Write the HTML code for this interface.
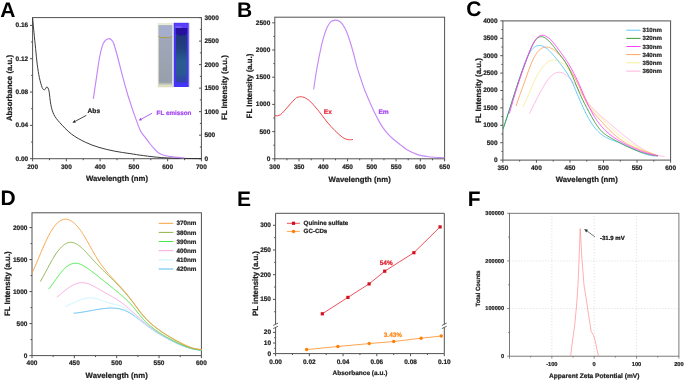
<!DOCTYPE html>
<html><head><meta charset="utf-8"><title>Figure</title>
<style>
html,body{margin:0;padding:0;background:#fff;}
body{width:685px;height:381px;overflow:hidden;}
svg{display:block;font-family:"Liberation Sans", sans-serif;filter:blur(0.45px);text-rendering:geometricPrecision;}
text{stroke-linejoin:round;}
</style></head>
<body>
<svg width="685" height="381" viewBox="0 0 685 381">
<rect width="685" height="381" fill="#fff"/>
<line x1="32.6" y1="158.7" x2="32.6" y2="161.3" stroke="#525252" stroke-width="1.0" />
<line x1="66.36" y1="158.7" x2="66.36" y2="161.3" stroke="#525252" stroke-width="1.0" />
<line x1="100.12" y1="158.7" x2="100.12" y2="161.3" stroke="#525252" stroke-width="1.0" />
<line x1="133.88" y1="158.7" x2="133.88" y2="161.3" stroke="#525252" stroke-width="1.0" />
<line x1="167.64" y1="158.7" x2="167.64" y2="161.3" stroke="#525252" stroke-width="1.0" />
<line x1="201.4" y1="158.7" x2="201.4" y2="161.3" stroke="#525252" stroke-width="1.0" />
<line x1="49.48" y1="158.7" x2="49.48" y2="160.2" stroke="#525252" stroke-width="1.0" />
<line x1="83.24" y1="158.7" x2="83.24" y2="160.2" stroke="#525252" stroke-width="1.0" />
<line x1="117" y1="158.7" x2="117" y2="160.2" stroke="#525252" stroke-width="1.0" />
<line x1="150.76" y1="158.7" x2="150.76" y2="160.2" stroke="#525252" stroke-width="1.0" />
<line x1="184.52" y1="158.7" x2="184.52" y2="160.2" stroke="#525252" stroke-width="1.0" />
<line x1="32.6" y1="158.7" x2="30" y2="158.7" stroke="#525252" stroke-width="1.0" />
<line x1="32.6" y1="142.04" x2="31.1" y2="142.04" stroke="#525252" stroke-width="1.0" />
<line x1="32.6" y1="125.38" x2="30" y2="125.38" stroke="#525252" stroke-width="1.0" />
<line x1="32.6" y1="108.71" x2="31.1" y2="108.71" stroke="#525252" stroke-width="1.0" />
<line x1="32.6" y1="92.05" x2="30" y2="92.05" stroke="#525252" stroke-width="1.0" />
<line x1="32.6" y1="75.39" x2="31.1" y2="75.39" stroke="#525252" stroke-width="1.0" />
<line x1="32.6" y1="58.72" x2="30" y2="58.72" stroke="#525252" stroke-width="1.0" />
<line x1="32.6" y1="42.06" x2="31.1" y2="42.06" stroke="#525252" stroke-width="1.0" />
<line x1="32.6" y1="25.4" x2="30" y2="25.4" stroke="#525252" stroke-width="1.0" />
<line x1="201.4" y1="158.7" x2="199" y2="158.7" stroke="#525252" stroke-width="1.0" />
<line x1="201.4" y1="146.94" x2="199.9" y2="146.94" stroke="#525252" stroke-width="1.0" />
<line x1="201.4" y1="135.18" x2="199" y2="135.18" stroke="#525252" stroke-width="1.0" />
<line x1="201.4" y1="123.42" x2="199.9" y2="123.42" stroke="#525252" stroke-width="1.0" />
<line x1="201.4" y1="111.67" x2="199" y2="111.67" stroke="#525252" stroke-width="1.0" />
<line x1="201.4" y1="99.91" x2="199.9" y2="99.91" stroke="#525252" stroke-width="1.0" />
<line x1="201.4" y1="88.15" x2="199" y2="88.15" stroke="#525252" stroke-width="1.0" />
<line x1="201.4" y1="76.39" x2="199.9" y2="76.39" stroke="#525252" stroke-width="1.0" />
<line x1="201.4" y1="64.63" x2="199" y2="64.63" stroke="#525252" stroke-width="1.0" />
<line x1="201.4" y1="52.88" x2="199.9" y2="52.88" stroke="#525252" stroke-width="1.0" />
<line x1="201.4" y1="41.12" x2="199" y2="41.12" stroke="#525252" stroke-width="1.0" />
<line x1="201.4" y1="29.36" x2="199.9" y2="29.36" stroke="#525252" stroke-width="1.0" />
<line x1="201.4" y1="17.6" x2="199" y2="17.6" stroke="#525252" stroke-width="1.0" />
<rect x="32.6" y="17.6" width="168.8" height="141.1" fill="none" stroke="#525252" stroke-width="1.0"/>
<text x="32.6" y="168.95" font-size="6.5" font-weight="bold" text-anchor="middle" fill="#1e1e1e" stroke="#1e1e1e" stroke-width="0.22" >200</text>
<text x="66.36" y="168.95" font-size="6.5" font-weight="bold" text-anchor="middle" fill="#1e1e1e" stroke="#1e1e1e" stroke-width="0.22" >300</text>
<text x="100.12" y="168.95" font-size="6.5" font-weight="bold" text-anchor="middle" fill="#1e1e1e" stroke="#1e1e1e" stroke-width="0.22" >400</text>
<text x="133.88" y="168.95" font-size="6.5" font-weight="bold" text-anchor="middle" fill="#1e1e1e" stroke="#1e1e1e" stroke-width="0.22" >500</text>
<text x="167.64" y="168.95" font-size="6.5" font-weight="bold" text-anchor="middle" fill="#1e1e1e" stroke="#1e1e1e" stroke-width="0.22" >600</text>
<text x="201.4" y="168.95" font-size="6.5" font-weight="bold" text-anchor="middle" fill="#1e1e1e" stroke="#1e1e1e" stroke-width="0.22" >700</text>
<text x="28.2" y="160.65" font-size="6.5" font-weight="bold" text-anchor="end" fill="#1e1e1e" stroke="#1e1e1e" stroke-width="0.22" >0.00</text>
<text x="28.2" y="127.33" font-size="6.5" font-weight="bold" text-anchor="end" fill="#1e1e1e" stroke="#1e1e1e" stroke-width="0.22" >0.04</text>
<text x="28.2" y="94" font-size="6.5" font-weight="bold" text-anchor="end" fill="#1e1e1e" stroke="#1e1e1e" stroke-width="0.22" >0.08</text>
<text x="28.2" y="60.67" font-size="6.5" font-weight="bold" text-anchor="end" fill="#1e1e1e" stroke="#1e1e1e" stroke-width="0.22" >0.12</text>
<text x="28.2" y="27.35" font-size="6.5" font-weight="bold" text-anchor="end" fill="#1e1e1e" stroke="#1e1e1e" stroke-width="0.22" >0.16</text>
<text x="204.4" y="160.65" font-size="6.5" font-weight="bold" text-anchor="start" fill="#1e1e1e" stroke="#1e1e1e" stroke-width="0.22" >0</text>
<text x="204.4" y="137.13" font-size="6.5" font-weight="bold" text-anchor="start" fill="#1e1e1e" stroke="#1e1e1e" stroke-width="0.22" >500</text>
<text x="204.4" y="113.62" font-size="6.5" font-weight="bold" text-anchor="start" fill="#1e1e1e" stroke="#1e1e1e" stroke-width="0.22" >1000</text>
<text x="204.4" y="90.1" font-size="6.5" font-weight="bold" text-anchor="start" fill="#1e1e1e" stroke="#1e1e1e" stroke-width="0.22" >1500</text>
<text x="204.4" y="66.58" font-size="6.5" font-weight="bold" text-anchor="start" fill="#1e1e1e" stroke="#1e1e1e" stroke-width="0.22" >2000</text>
<text x="204.4" y="43.07" font-size="6.5" font-weight="bold" text-anchor="start" fill="#1e1e1e" stroke="#1e1e1e" stroke-width="0.22" >2500</text>
<text x="204.4" y="19.55" font-size="6.5" font-weight="bold" text-anchor="start" fill="#1e1e1e" stroke="#1e1e1e" stroke-width="0.22" >3000</text>
<text x="117" y="180.7" font-size="7.75" font-weight="bold" text-anchor="middle" fill="#1e1e1e" stroke="#1e1e1e" stroke-width="0.22" >Wavelength (nm)</text>
<text x="11.9" y="88" font-size="7.85" font-weight="bold" text-anchor="middle" fill="#1e1e1e" stroke="#1e1e1e" stroke-width="0.22" transform="rotate(-90 11.9 88)" >Absorbance (a.u.)</text>
<text x="226.6" y="87.6" font-size="7.85" font-weight="bold" text-anchor="middle" fill="#1e1e1e" stroke="#1e1e1e" stroke-width="0.22" transform="rotate(-90 226.6 87.6)" >FL Intensity (a.u.)</text>
<text x="0.13" y="17.05" font-size="21" font-weight="bold" text-anchor="start" fill="#000" >A</text>
<defs>
<linearGradient id="cv2" x1="0" y1="0" x2="0" y2="1">
<stop offset="0" stop-color="#20347a"/><stop offset="0.3" stop-color="#22407e"/>
<stop offset="0.58" stop-color="#295c92"/><stop offset="0.82" stop-color="#2a5892"/><stop offset="1" stop-color="#3240aa"/>
</linearGradient>
<linearGradient id="cv1" x1="0" y1="0" x2="0" y2="1">
<stop offset="0" stop-color="#a0a9c0"/><stop offset="0.3" stop-color="#9ea7b8"/><stop offset="0.95" stop-color="#98a0ac"/><stop offset="1" stop-color="#dcdcbc"/>
</linearGradient>
</defs>
<rect x="157.8" y="23.2" width="15.2" height="64.1" fill="#dcdfc4"/>
<rect x="158.8" y="25.4" width="13.2" height="59.8" fill="url(#cv1)"/>
<rect x="158.8" y="25.4" width="13.2" height="11.8" fill="#a5aecc"/>
<path d="M158.8,36.2 Q159.6,37.5 161.5,37.5 H169.3 Q171.2,37.5 172,36.2" fill="none" stroke="#ad9c50" stroke-width="1.1"/>
<rect x="157.8" y="23.2" width="15.2" height="1.8" fill="#ebebda"/>
<rect x="173.7" y="22.8" width="15.1" height="64.2" fill="#4434f6"/>
<rect x="176" y="33" width="11" height="49.4" fill="url(#cv2)"/>
<rect x="175" y="23.5" width="13" height="4.6" fill="#5a40f8"/>
<rect x="175.4" y="26.5" width="6" height="1.1" fill="#a898ff" opacity="0.6"/>
<path d="M175.8,28.1 H187.2 V33.4 Q181.5,37.8 175.8,33.4 Z" fill="#28109e"/>
<rect x="188.7" y="23" width="1" height="64" fill="#c0a0ff" opacity="0.55"/>
<path d="M32.6,18.2 C32.63,18.6 32.57,18.15 32.8,20.6 C33.03,23.05 33.53,28.23 34,32.9 C34.47,37.57 35.07,43.38 35.6,48.6 C36.13,53.82 36.57,59.35 37.2,64.2 C37.83,69.05 38.57,73.8 39.4,77.7 C40.23,81.6 41.33,85.58 42.2,87.6 C43.07,89.62 43.82,89.92 44.6,89.8 C45.38,89.68 46.17,86.68 46.9,86.9 C47.63,87.12 48.35,88.17 49,91.1 C49.65,94.03 50,100.62 50.8,104.5 C51.6,108.38 52.32,111.4 53.8,114.4 C55.28,117.4 56.75,119.22 59.7,122.5 C62.65,125.78 67.23,130.82 71.5,134.1 C75.77,137.38 80.72,139.98 85.3,142.2 C89.88,144.42 94.08,145.9 99,147.4 C103.92,148.9 109.63,150.17 114.8,151.2 C119.97,152.23 125.23,152.87 130,153.6 C134.77,154.33 138.1,154.93 143.4,155.6 C148.7,156.27 155.07,157.13 161.8,157.6 C168.53,158.07 177.27,158.23 183.8,158.4 C190.33,158.57 198.13,158.57 201,158.6" fill="none" stroke="#262626" stroke-width="0.9" stroke-linejoin="round" stroke-linecap="round" opacity="1.0"/>
<path d="M93.4,98.4 C93.92,94.9 95.45,84.38 96.5,77.4 C97.55,70.42 98.65,61.97 99.7,56.5 C100.75,51.03 101.82,47.32 102.8,44.6 C103.78,41.88 104.65,41.18 105.6,40.2 C106.55,39.22 107.57,38.77 108.5,38.7 C109.43,38.63 110.35,39.03 111.2,39.8 C112.05,40.57 112.55,40.52 113.6,43.3 C114.65,46.08 115.97,50.85 117.5,56.5 C119.03,62.15 121.08,70.78 122.8,77.2 C124.52,83.62 126.5,90.6 127.8,95 C129.1,99.4 129.63,100.67 130.6,103.6 C131.57,106.53 132.43,109.27 133.6,112.6 C134.77,115.93 136.42,120.5 137.6,123.6 C138.78,126.7 139.4,128.85 140.7,131.2 C142,133.55 143.82,135.57 145.4,137.7 C146.98,139.83 148.62,142.03 150.2,144 C151.78,145.97 153.33,147.92 154.9,149.5 C156.47,151.08 157.77,152.45 159.6,153.5 C161.43,154.55 163.33,155.2 165.9,155.8 C168.47,156.4 172.02,156.73 175,157.1 C177.98,157.47 182.33,157.85 183.8,158" fill="none" stroke="#c486f7" stroke-width="1.15" stroke-linejoin="round" stroke-linecap="round" opacity="1.0"/>
<line x1="86.3" y1="115.4" x2="75.22" y2="121.3" stroke="#1a1a1a" stroke-width="0.8" />
<path d="M72.4,122.8 L74.57,120.06 L75.88,122.53 Z" fill="#1a1a1a"/>
<text x="87.6" y="113.2" font-size="6.6" font-weight="bold" text-anchor="start" fill="#1a1a1a" stroke="#1a1a1a" stroke-width="0.22" >Abs</text>
<line x1="152.2" y1="113.2" x2="141.41" y2="119.07" stroke="#a040f0" stroke-width="0.8" />
<path d="M138.6,120.6 L140.74,117.84 L142.08,120.3 Z" fill="#a040f0"/>
<text x="156.6" y="114.8" font-size="6.3" font-weight="bold" text-anchor="start" fill="#a448f0" stroke="#a448f0" stroke-width="0.22" >FL emisson</text>
<line x1="274.8" y1="158.8" x2="274.8" y2="161.4" stroke="#525252" stroke-width="1.0" />
<line x1="299.06" y1="158.8" x2="299.06" y2="161.4" stroke="#525252" stroke-width="1.0" />
<line x1="323.31" y1="158.8" x2="323.31" y2="161.4" stroke="#525252" stroke-width="1.0" />
<line x1="347.57" y1="158.8" x2="347.57" y2="161.4" stroke="#525252" stroke-width="1.0" />
<line x1="371.83" y1="158.8" x2="371.83" y2="161.4" stroke="#525252" stroke-width="1.0" />
<line x1="396.09" y1="158.8" x2="396.09" y2="161.4" stroke="#525252" stroke-width="1.0" />
<line x1="420.34" y1="158.8" x2="420.34" y2="161.4" stroke="#525252" stroke-width="1.0" />
<line x1="444.6" y1="158.8" x2="444.6" y2="161.4" stroke="#525252" stroke-width="1.0" />
<line x1="286.93" y1="158.8" x2="286.93" y2="160.3" stroke="#525252" stroke-width="1.0" />
<line x1="311.19" y1="158.8" x2="311.19" y2="160.3" stroke="#525252" stroke-width="1.0" />
<line x1="335.44" y1="158.8" x2="335.44" y2="160.3" stroke="#525252" stroke-width="1.0" />
<line x1="359.7" y1="158.8" x2="359.7" y2="160.3" stroke="#525252" stroke-width="1.0" />
<line x1="383.96" y1="158.8" x2="383.96" y2="160.3" stroke="#525252" stroke-width="1.0" />
<line x1="408.21" y1="158.8" x2="408.21" y2="160.3" stroke="#525252" stroke-width="1.0" />
<line x1="432.47" y1="158.8" x2="432.47" y2="160.3" stroke="#525252" stroke-width="1.0" />
<line x1="274.8" y1="158.8" x2="272.2" y2="158.8" stroke="#525252" stroke-width="1.0" />
<line x1="274.8" y1="145.2" x2="273.3" y2="145.2" stroke="#525252" stroke-width="1.0" />
<line x1="274.8" y1="131.6" x2="272.2" y2="131.6" stroke="#525252" stroke-width="1.0" />
<line x1="274.8" y1="118" x2="273.3" y2="118" stroke="#525252" stroke-width="1.0" />
<line x1="274.8" y1="104.4" x2="272.2" y2="104.4" stroke="#525252" stroke-width="1.0" />
<line x1="274.8" y1="90.8" x2="273.3" y2="90.8" stroke="#525252" stroke-width="1.0" />
<line x1="274.8" y1="77.2" x2="272.2" y2="77.2" stroke="#525252" stroke-width="1.0" />
<line x1="274.8" y1="63.6" x2="273.3" y2="63.6" stroke="#525252" stroke-width="1.0" />
<line x1="274.8" y1="50" x2="272.2" y2="50" stroke="#525252" stroke-width="1.0" />
<line x1="274.8" y1="36.4" x2="273.3" y2="36.4" stroke="#525252" stroke-width="1.0" />
<line x1="274.8" y1="22.8" x2="272.2" y2="22.8" stroke="#525252" stroke-width="1.0" />
<rect x="274.8" y="17.2" width="169.8" height="141.6" fill="none" stroke="#525252" stroke-width="1.0"/>
<text x="274.8" y="168.75" font-size="6.5" font-weight="bold" text-anchor="middle" fill="#1e1e1e" stroke="#1e1e1e" stroke-width="0.22" >300</text>
<text x="299.06" y="168.75" font-size="6.5" font-weight="bold" text-anchor="middle" fill="#1e1e1e" stroke="#1e1e1e" stroke-width="0.22" >350</text>
<text x="323.31" y="168.75" font-size="6.5" font-weight="bold" text-anchor="middle" fill="#1e1e1e" stroke="#1e1e1e" stroke-width="0.22" >400</text>
<text x="347.57" y="168.75" font-size="6.5" font-weight="bold" text-anchor="middle" fill="#1e1e1e" stroke="#1e1e1e" stroke-width="0.22" >450</text>
<text x="371.83" y="168.75" font-size="6.5" font-weight="bold" text-anchor="middle" fill="#1e1e1e" stroke="#1e1e1e" stroke-width="0.22" >500</text>
<text x="396.09" y="168.75" font-size="6.5" font-weight="bold" text-anchor="middle" fill="#1e1e1e" stroke="#1e1e1e" stroke-width="0.22" >550</text>
<text x="420.34" y="168.75" font-size="6.5" font-weight="bold" text-anchor="middle" fill="#1e1e1e" stroke="#1e1e1e" stroke-width="0.22" >600</text>
<text x="444.6" y="168.75" font-size="6.5" font-weight="bold" text-anchor="middle" fill="#1e1e1e" stroke="#1e1e1e" stroke-width="0.22" >650</text>
<text x="270.3" y="160.75" font-size="6.5" font-weight="bold" text-anchor="end" fill="#1e1e1e" stroke="#1e1e1e" stroke-width="0.22" >0</text>
<text x="270.3" y="133.55" font-size="6.5" font-weight="bold" text-anchor="end" fill="#1e1e1e" stroke="#1e1e1e" stroke-width="0.22" >500</text>
<text x="270.3" y="106.35" font-size="6.5" font-weight="bold" text-anchor="end" fill="#1e1e1e" stroke="#1e1e1e" stroke-width="0.22" >1000</text>
<text x="270.3" y="79.15" font-size="6.5" font-weight="bold" text-anchor="end" fill="#1e1e1e" stroke="#1e1e1e" stroke-width="0.22" >1500</text>
<text x="270.3" y="51.95" font-size="6.5" font-weight="bold" text-anchor="end" fill="#1e1e1e" stroke="#1e1e1e" stroke-width="0.22" >2000</text>
<text x="270.3" y="24.75" font-size="6.5" font-weight="bold" text-anchor="end" fill="#1e1e1e" stroke="#1e1e1e" stroke-width="0.22" >2500</text>
<text x="359.7" y="182.2" font-size="7.75" font-weight="bold" text-anchor="middle" fill="#1e1e1e" stroke="#1e1e1e" stroke-width="0.22" >Wavelength (nm)</text>
<text x="251.6" y="86" font-size="7.85" font-weight="bold" text-anchor="middle" fill="#1e1e1e" stroke="#1e1e1e" stroke-width="0.22" transform="rotate(-90 251.6 86)" >FL Intensity (a.u.)</text>
<text x="236.93" y="17.45" font-size="21" font-weight="bold" text-anchor="start" fill="#000" >B</text>
<path d="M274.8,115.8 C275.25,115.78 276.53,115.9 277.5,115.7 C278.47,115.5 279.52,115.35 280.6,114.6 C281.68,113.85 282.82,112.47 284,111.2 C285.18,109.93 286.53,108.33 287.7,107 C288.87,105.67 289.95,104.37 291,103.2 C292.05,102.03 293.07,100.92 294,100 C294.93,99.08 295.67,98.23 296.6,97.7 C297.53,97.17 298.58,96.92 299.6,96.8 C300.62,96.68 301.67,96.77 302.7,97 C303.73,97.23 304.42,97.33 305.8,98.2 C307.18,99.07 308.77,99.95 311,102.2 C313.23,104.45 316.52,108.4 319.2,111.7 C321.88,115 324.48,118.85 327.1,122 C329.72,125.15 332.28,128.02 334.9,130.6 C337.52,133.18 340.78,136.03 342.8,137.5 C344.82,138.97 345.83,139.02 347,139.4 C348.17,139.78 348.87,139.78 349.8,139.8 C350.73,139.82 352.13,139.55 352.6,139.5" fill="none" stroke="#f04848" stroke-width="1.0" stroke-linejoin="round" stroke-linecap="round" opacity="1.0"/>
<path d="M313.7,89 C314.22,85.67 315.5,76.27 316.8,69 C318.1,61.73 320.22,51.15 321.5,45.4 C322.78,39.65 323.52,37.6 324.5,34.5 C325.48,31.4 326.32,28.95 327.4,26.8 C328.48,24.65 329.7,22.72 331,21.6 C332.3,20.48 333.87,20.18 335.2,20.1 C336.53,20.02 337.75,20.35 339,21.1 C340.25,21.85 341.47,22.92 342.7,24.6 C343.93,26.28 345.22,28.52 346.4,31.2 C347.58,33.88 348.63,37.07 349.8,40.7 C350.97,44.33 352.22,48.68 353.4,53 C354.58,57.32 355.67,62.3 356.9,66.6 C358.13,70.9 359.5,74.9 360.8,78.8 C362.1,82.7 363.27,86.27 364.7,90 C366.13,93.73 367.68,97.27 369.4,101.2 C371.12,105.13 373.37,110.2 375,113.6 C376.63,117 377.88,119.27 379.2,121.6 C380.52,123.93 381.6,125.73 382.9,127.6 C384.2,129.47 385.33,130.93 387,132.8 C388.67,134.67 390.58,136.75 392.9,138.8 C395.22,140.85 398.32,143.13 400.9,145.1 C403.48,147.07 405.62,149.02 408.4,150.6 C411.18,152.18 414.53,153.62 417.6,154.6 C420.67,155.58 423.9,156.05 426.8,156.5 C429.7,156.95 432.1,157.1 435,157.3 C437.9,157.5 442.67,157.63 444.2,157.7" fill="none" stroke="#c68af7" stroke-width="1.15" stroke-linejoin="round" stroke-linecap="round" opacity="1.0"/>
<text x="323.8" y="114.4" font-size="6.6" font-weight="bold" text-anchor="start" fill="#e8283c" stroke="#e8283c" stroke-width="0.22" >Ex</text>
<text x="378.4" y="114" font-size="6.6" font-weight="bold" text-anchor="start" fill="#a848f0" stroke="#a848f0" stroke-width="0.22" >Em</text>
<line x1="502.9" y1="160.1" x2="502.9" y2="162.7" stroke="#525252" stroke-width="1.0" />
<line x1="536.44" y1="160.1" x2="536.44" y2="162.7" stroke="#525252" stroke-width="1.0" />
<line x1="569.98" y1="160.1" x2="569.98" y2="162.7" stroke="#525252" stroke-width="1.0" />
<line x1="603.52" y1="160.1" x2="603.52" y2="162.7" stroke="#525252" stroke-width="1.0" />
<line x1="637.06" y1="160.1" x2="637.06" y2="162.7" stroke="#525252" stroke-width="1.0" />
<line x1="670.6" y1="160.1" x2="670.6" y2="162.7" stroke="#525252" stroke-width="1.0" />
<line x1="519.67" y1="160.1" x2="519.67" y2="161.6" stroke="#525252" stroke-width="1.0" />
<line x1="553.21" y1="160.1" x2="553.21" y2="161.6" stroke="#525252" stroke-width="1.0" />
<line x1="586.75" y1="160.1" x2="586.75" y2="161.6" stroke="#525252" stroke-width="1.0" />
<line x1="620.29" y1="160.1" x2="620.29" y2="161.6" stroke="#525252" stroke-width="1.0" />
<line x1="653.83" y1="160.1" x2="653.83" y2="161.6" stroke="#525252" stroke-width="1.0" />
<line x1="502.9" y1="160.1" x2="500.3" y2="160.1" stroke="#525252" stroke-width="1.0" />
<line x1="502.9" y1="151.4" x2="501.4" y2="151.4" stroke="#525252" stroke-width="1.0" />
<line x1="502.9" y1="142.7" x2="500.3" y2="142.7" stroke="#525252" stroke-width="1.0" />
<line x1="502.9" y1="134" x2="501.4" y2="134" stroke="#525252" stroke-width="1.0" />
<line x1="502.9" y1="125.3" x2="500.3" y2="125.3" stroke="#525252" stroke-width="1.0" />
<line x1="502.9" y1="116.6" x2="501.4" y2="116.6" stroke="#525252" stroke-width="1.0" />
<line x1="502.9" y1="107.9" x2="500.3" y2="107.9" stroke="#525252" stroke-width="1.0" />
<line x1="502.9" y1="99.2" x2="501.4" y2="99.2" stroke="#525252" stroke-width="1.0" />
<line x1="502.9" y1="90.5" x2="500.3" y2="90.5" stroke="#525252" stroke-width="1.0" />
<line x1="502.9" y1="81.8" x2="501.4" y2="81.8" stroke="#525252" stroke-width="1.0" />
<line x1="502.9" y1="73.1" x2="500.3" y2="73.1" stroke="#525252" stroke-width="1.0" />
<line x1="502.9" y1="64.4" x2="501.4" y2="64.4" stroke="#525252" stroke-width="1.0" />
<line x1="502.9" y1="55.7" x2="500.3" y2="55.7" stroke="#525252" stroke-width="1.0" />
<line x1="502.9" y1="47" x2="501.4" y2="47" stroke="#525252" stroke-width="1.0" />
<line x1="502.9" y1="38.3" x2="500.3" y2="38.3" stroke="#525252" stroke-width="1.0" />
<line x1="502.9" y1="29.6" x2="501.4" y2="29.6" stroke="#525252" stroke-width="1.0" />
<line x1="502.9" y1="20.9" x2="500.3" y2="20.9" stroke="#525252" stroke-width="1.0" />
<rect x="502.9" y="20.9" width="167.7" height="139.2" fill="none" stroke="#525252" stroke-width="1.0"/>
<text x="502.9" y="169.85" font-size="6.5" font-weight="bold" text-anchor="middle" fill="#1e1e1e" stroke="#1e1e1e" stroke-width="0.22" >350</text>
<text x="536.44" y="169.85" font-size="6.5" font-weight="bold" text-anchor="middle" fill="#1e1e1e" stroke="#1e1e1e" stroke-width="0.22" >400</text>
<text x="569.98" y="169.85" font-size="6.5" font-weight="bold" text-anchor="middle" fill="#1e1e1e" stroke="#1e1e1e" stroke-width="0.22" >450</text>
<text x="603.52" y="169.85" font-size="6.5" font-weight="bold" text-anchor="middle" fill="#1e1e1e" stroke="#1e1e1e" stroke-width="0.22" >500</text>
<text x="637.06" y="169.85" font-size="6.5" font-weight="bold" text-anchor="middle" fill="#1e1e1e" stroke="#1e1e1e" stroke-width="0.22" >550</text>
<text x="670.6" y="169.85" font-size="6.5" font-weight="bold" text-anchor="middle" fill="#1e1e1e" stroke="#1e1e1e" stroke-width="0.22" >600</text>
<text x="497.6" y="162.05" font-size="6.5" font-weight="bold" text-anchor="end" fill="#1e1e1e" stroke="#1e1e1e" stroke-width="0.22" >0</text>
<text x="497.6" y="144.65" font-size="6.5" font-weight="bold" text-anchor="end" fill="#1e1e1e" stroke="#1e1e1e" stroke-width="0.22" >500</text>
<text x="497.6" y="127.25" font-size="6.5" font-weight="bold" text-anchor="end" fill="#1e1e1e" stroke="#1e1e1e" stroke-width="0.22" >1000</text>
<text x="497.6" y="109.85" font-size="6.5" font-weight="bold" text-anchor="end" fill="#1e1e1e" stroke="#1e1e1e" stroke-width="0.22" >1500</text>
<text x="497.6" y="92.45" font-size="6.5" font-weight="bold" text-anchor="end" fill="#1e1e1e" stroke="#1e1e1e" stroke-width="0.22" >2000</text>
<text x="497.6" y="75.05" font-size="6.5" font-weight="bold" text-anchor="end" fill="#1e1e1e" stroke="#1e1e1e" stroke-width="0.22" >2500</text>
<text x="497.6" y="57.65" font-size="6.5" font-weight="bold" text-anchor="end" fill="#1e1e1e" stroke="#1e1e1e" stroke-width="0.22" >3000</text>
<text x="497.6" y="40.25" font-size="6.5" font-weight="bold" text-anchor="end" fill="#1e1e1e" stroke="#1e1e1e" stroke-width="0.22" >3500</text>
<text x="497.6" y="22.85" font-size="6.5" font-weight="bold" text-anchor="end" fill="#1e1e1e" stroke="#1e1e1e" stroke-width="0.22" >4000</text>
<text x="586.75" y="181.9" font-size="7.75" font-weight="bold" text-anchor="middle" fill="#1e1e1e" stroke="#1e1e1e" stroke-width="0.22" >Wavelength (nm)</text>
<text x="481.3" y="90.6" font-size="7.85" font-weight="bold" text-anchor="middle" fill="#1e1e1e" stroke="#1e1e1e" stroke-width="0.22" transform="rotate(-90 481.3 90.6)" >FL Intensity (a.u.)</text>
<text x="466.13" y="16.35" font-size="21" font-weight="bold" text-anchor="start" fill="#000" >C</text>
<path d="M529.6,113.13 L530.3,111.77 L531,110.4 L531.7,109.02 L532.4,107.63 L533.11,106.23 L533.81,104.84 L534.51,103.44 L535.21,102.04 L535.91,100.65 L536.61,99.26 L537.31,97.89 L538.01,96.52 L538.71,95.17 L539.41,93.83 L540.12,92.52 L540.82,91.22 L541.52,89.95 L542.22,88.7 L542.92,87.48 L543.62,86.29 L544.32,85.14 L545.02,84.02 L545.72,82.93 L546.43,81.89 L547.13,80.89 L547.83,79.93 L548.53,79.02 L549.23,78.16 L549.93,77.35 L550.63,76.6 L551.33,75.9 L552.03,75.26 L552.73,74.68 L553.44,74.17 L554.14,73.72 L554.84,73.33 L555.54,73 L556.24,72.74 L556.94,72.54 L557.64,72.4 L558.34,72.31 L559.04,72.29 L559.74,72.32 L560.45,72.4 L561.15,72.54 L561.85,72.74 L562.55,72.98 L563.25,73.28 L563.95,73.64 L564.65,74.04 L565.35,74.49 L566.05,74.98 L566.76,75.53 L567.46,76.12 L568.16,76.76 L568.86,77.43 L569.56,78.14 L570.26,78.89 L570.96,79.66 L571.66,80.47 L572.36,81.3 L573.06,82.15 L573.77,83.03 L574.47,83.92 L575.17,84.83 L575.87,85.75 L576.57,86.69 L577.27,87.63 L577.97,88.59 L578.67,89.56 L579.37,90.53 L580.08,91.51 L580.78,92.49 L581.48,93.47 L582.18,94.46 L582.88,95.44 L583.58,96.42 L584.28,97.39 L584.98,98.36 L585.68,99.32 L586.38,100.27 L587.09,101.21 L587.79,102.14 L588.49,103.05 L589.19,103.94 L589.89,104.82 L590.59,105.68 L591.29,106.52 L591.99,107.34 L592.69,108.13 L593.39,108.9 L594.1,109.65 L594.8,110.38 L595.5,111.1 L596.2,111.79 L596.9,112.47 L597.6,113.14 L598.3,113.79 L599,114.43 L599.7,115.05 L600.41,115.67 L601.11,116.28 L601.81,116.89 L602.51,117.48 L603.21,118.08 L603.91,118.67 L604.61,119.25 L605.31,119.84 L606.01,120.43 L606.71,121.02 L607.42,121.61 L608.12,122.2 L608.82,122.79 L609.52,123.39 L610.22,123.98 L610.92,124.58 L611.62,125.17 L612.32,125.77 L613.02,126.37 L613.73,126.97 L614.43,127.56 L615.13,128.16 L615.83,128.75 L616.53,129.35 L617.23,129.94 L617.93,130.53 L618.63,131.13 L619.33,131.71 L620.03,132.3 L620.74,132.89 L621.44,133.47 L622.14,134.05 L622.84,134.63 L623.54,135.2 L624.24,135.77 L624.94,136.34 L625.64,136.9 L626.34,137.47 L627.04,138.02 L627.75,138.57 L628.45,139.12 L629.15,139.67 L629.85,140.2 L630.55,140.74 L631.25,141.27 L631.95,141.79 L632.65,142.31 L633.35,142.82 L634.06,143.32 L634.76,143.82 L635.46,144.31 L636.16,144.8 L636.86,145.28 L637.56,145.75 L638.26,146.22 L638.96,146.67 L639.66,147.12 L640.36,147.56 L641.07,148 L641.77,148.42 L642.47,148.84 L643.17,149.25 L643.87,149.65 L644.57,150.04 L645.27,150.42 L645.97,150.79 L646.67,151.15 L647.38,151.5 L648.08,151.84 L648.78,152.17 L649.48,152.49 L650.18,152.8 L650.88,153.1 L651.58,153.38 L652.28,153.66 L652.98,153.92 L653.68,154.18 L654.39,154.42 L655.09,154.64 L655.79,154.86 L656.49,155.06 L657.19,155.25 L657.89,155.43 L658.59,155.59 L659.29,155.74 L659.99,155.88 L660.69,156 L661.4,156.11 L662.1,156.2 L662.8,156.28 L663.5,156.35 L664.2,156.4" fill="none" stroke="#ffb4e0" stroke-width="0.95" stroke-linejoin="round" stroke-linecap="round" opacity="1.0"/>
<path d="M522.9,106.82 L523.6,105.51 L524.3,104.13 L525,102.69 L525.7,101.19 L526.4,99.64 L527.1,98.06 L527.8,96.44 L528.5,94.8 L529.2,93.14 L529.91,91.47 L530.61,89.79 L531.31,88.13 L532.01,86.48 L532.71,84.85 L533.41,83.25 L534.11,81.68 L534.81,80.16 L535.51,78.7 L536.21,77.29 L536.91,75.93 L537.61,74.63 L538.31,73.39 L539.01,72.2 L539.71,71.07 L540.41,70 L541.11,68.98 L541.81,68.02 L542.51,67.11 L543.22,66.26 L543.92,65.46 L544.62,64.72 L545.32,64.04 L546.02,63.41 L546.72,62.84 L547.42,62.32 L548.12,61.85 L548.82,61.44 L549.52,61.09 L550.22,60.79 L550.92,60.54 L551.62,60.34 L552.32,60.19 L553.02,60.1 L553.72,60.05 L554.42,60.05 L555.12,60.1 L555.82,60.19 L556.52,60.34 L557.23,60.52 L557.93,60.76 L558.63,61.03 L559.33,61.35 L560.03,61.71 L560.73,62.11 L561.43,62.56 L562.13,63.04 L562.83,63.56 L563.53,64.12 L564.23,64.72 L564.93,65.36 L565.63,66.03 L566.33,66.74 L567.03,67.48 L567.73,68.25 L568.43,69.06 L569.13,69.9 L569.83,70.78 L570.54,71.69 L571.24,72.64 L571.94,73.63 L572.64,74.66 L573.34,75.73 L574.04,76.84 L574.74,77.99 L575.44,79.18 L576.14,80.42 L576.84,81.71 L577.54,83.03 L578.24,84.38 L578.94,85.76 L579.64,87.16 L580.34,88.57 L581.04,89.99 L581.74,91.41 L582.44,92.82 L583.14,94.22 L583.85,95.6 L584.55,96.95 L585.25,98.28 L585.95,99.56 L586.65,100.8 L587.35,101.99 L588.05,103.12 L588.75,104.19 L589.45,105.21 L590.15,106.17 L590.85,107.08 L591.55,107.95 L592.25,108.78 L592.95,109.57 L593.65,110.34 L594.35,111.07 L595.05,111.79 L595.75,112.48 L596.45,113.17 L597.16,113.84 L597.86,114.51 L598.56,115.17 L599.26,115.85 L599.96,116.52 L600.66,117.21 L601.36,117.91 L602.06,118.62 L602.76,119.33 L603.46,120.05 L604.16,120.77 L604.86,121.5 L605.56,122.22 L606.26,122.95 L606.96,123.68 L607.66,124.4 L608.36,125.13 L609.06,125.85 L609.76,126.56 L610.47,127.27 L611.17,127.96 L611.87,128.65 L612.57,129.33 L613.27,130 L613.97,130.66 L614.67,131.31 L615.37,131.94 L616.07,132.56 L616.77,133.18 L617.47,133.78 L618.17,134.37 L618.87,134.95 L619.57,135.52 L620.27,136.08 L620.97,136.63 L621.67,137.17 L622.37,137.7 L623.07,138.22 L623.77,138.73 L624.48,139.24 L625.18,139.73 L625.88,140.22 L626.58,140.69 L627.28,141.16 L627.98,141.62 L628.68,142.07 L629.38,142.52 L630.08,142.95 L630.78,143.38 L631.48,143.8 L632.18,144.22 L632.88,144.62 L633.58,145.02 L634.28,145.41 L634.98,145.8 L635.68,146.18 L636.38,146.55 L637.08,146.92 L637.79,147.28 L638.49,147.64 L639.19,147.99 L639.89,148.34 L640.59,148.67 L641.29,149.01 L641.99,149.34 L642.69,149.66 L643.39,149.98 L644.09,150.3 L644.79,150.61 L645.49,150.92 L646.19,151.22 L646.89,151.52 L647.59,151.82 L648.29,152.11 L648.99,152.4 L649.69,152.69 L650.39,152.97 L651.1,153.25 L651.8,153.53 L652.5,153.81 L653.2,154.08 L653.9,154.35 L654.6,154.62 L655.3,154.89 L656,155.15 L656.7,155.42 L657.4,155.68" fill="none" stroke="#f6ee98" stroke-width="0.95" stroke-linejoin="round" stroke-linecap="round" opacity="1.0"/>
<path d="M516.2,105.64 L516.9,103.5 L517.6,101.4 L518.31,99.35 L519.01,97.33 L519.71,95.33 L520.41,93.36 L521.12,91.41 L521.82,89.47 L522.52,87.53 L523.22,85.6 L523.93,83.66 L524.63,81.71 L525.33,79.75 L526.03,77.76 L526.74,75.77 L527.44,73.78 L528.14,71.8 L528.84,69.85 L529.55,67.94 L530.25,66.09 L530.95,64.3 L531.65,62.6 L532.36,60.99 L533.06,59.49 L533.76,58.08 L534.46,56.77 L535.17,55.55 L535.87,54.42 L536.57,53.38 L537.27,52.43 L537.98,51.57 L538.68,50.79 L539.38,50.09 L540.08,49.46 L540.79,48.92 L541.49,48.44 L542.19,48.04 L542.89,47.71 L543.6,47.45 L544.3,47.25 L545,47.11 L545.7,47.04 L546.41,47.02 L547.11,47.06 L547.81,47.15 L548.51,47.3 L549.22,47.49 L549.92,47.73 L550.62,48.02 L551.32,48.35 L552.03,48.72 L552.73,49.13 L553.43,49.57 L554.13,50.06 L554.84,50.58 L555.54,51.14 L556.24,51.73 L556.94,52.36 L557.65,53.03 L558.35,53.72 L559.05,54.45 L559.75,55.21 L560.46,56 L561.16,56.83 L561.86,57.68 L562.56,58.56 L563.27,59.47 L563.97,60.41 L564.67,61.37 L565.37,62.36 L566.08,63.38 L566.78,64.42 L567.48,65.48 L568.18,66.57 L568.89,67.68 L569.59,68.81 L570.29,69.97 L570.99,71.14 L571.7,72.33 L572.4,73.55 L573.1,74.78 L573.8,76.03 L574.51,77.3 L575.21,78.59 L575.91,79.92 L576.61,81.27 L577.32,82.66 L578.02,84.09 L578.72,85.56 L579.42,87.07 L580.13,88.64 L580.83,90.25 L581.53,91.88 L582.23,93.53 L582.94,95.17 L583.64,96.78 L584.34,98.34 L585.04,99.83 L585.75,101.24 L586.45,102.57 L587.15,103.82 L587.85,104.99 L588.56,106.1 L589.26,107.15 L589.96,108.14 L590.66,109.08 L591.37,109.99 L592.07,110.86 L592.77,111.7 L593.47,112.51 L594.18,113.31 L594.88,114.1 L595.58,114.89 L596.28,115.68 L596.99,116.47 L597.69,117.26 L598.39,118.05 L599.09,118.84 L599.8,119.63 L600.5,120.42 L601.2,121.21 L601.9,121.99 L602.61,122.77 L603.31,123.54 L604.01,124.31 L604.71,125.07 L605.42,125.83 L606.12,126.57 L606.82,127.31 L607.52,128.03 L608.23,128.75 L608.93,129.46 L609.63,130.15 L610.33,130.84 L611.04,131.51 L611.74,132.18 L612.44,132.83 L613.14,133.47 L613.85,134.1 L614.55,134.72 L615.25,135.33 L615.95,135.92 L616.66,136.51 L617.36,137.08 L618.06,137.64 L618.76,138.18 L619.47,138.71 L620.17,139.23 L620.87,139.74 L621.57,140.23 L622.28,140.71 L622.98,141.18 L623.68,141.63 L624.38,142.08 L625.09,142.51 L625.79,142.93 L626.49,143.34 L627.19,143.74 L627.9,144.13 L628.6,144.51 L629.3,144.88 L630,145.24 L630.71,145.6 L631.41,145.94 L632.11,146.28 L632.81,146.61 L633.52,146.93 L634.22,147.24 L634.92,147.55 L635.62,147.85 L636.33,148.15 L637.03,148.43 L637.73,148.72 L638.43,149 L639.14,149.27 L639.84,149.54 L640.54,149.8 L641.24,150.06 L641.95,150.32 L642.65,150.57 L643.35,150.82 L644.05,151.07 L644.76,151.32 L645.46,151.56 L646.16,151.8 L646.86,152.04 L647.57,152.28 L648.27,152.52 L648.97,152.76 L649.67,152.99 L650.38,153.23 L651.08,153.47 L651.78,153.71 L652.48,153.95 L653.19,154.19 L653.89,154.44 L654.59,154.69 L655.29,154.93 L656,155.19 L656.7,155.44 L657.4,155.7" fill="none" stroke="#ffa460" stroke-width="0.95" stroke-linejoin="round" stroke-linecap="round" opacity="1.0"/>
<path d="M503.2,128.5 L503.9,126.4 L504.6,124.3 L505.3,122.2 L506,120.09 L506.7,117.98 L507.41,115.87 L508.11,113.75 L508.81,111.63 L509.51,109.5 L510.21,107.36 L510.91,105.22 L511.61,103.07 L512.31,100.91 L513.01,98.74 L513.71,96.56 L514.41,94.36 L515.12,92.16 L515.82,89.94 L516.52,87.71 L517.22,85.48 L517.92,83.25 L518.62,81.03 L519.32,78.82 L520.02,76.64 L520.72,74.49 L521.42,72.37 L522.12,70.3 L522.83,68.28 L523.53,66.33 L524.23,64.43 L524.93,62.61 L525.63,60.87 L526.33,59.22 L527.03,57.66 L527.73,56.21 L528.43,54.86 L529.13,53.61 L529.83,52.46 L530.54,51.4 L531.24,50.44 L531.94,49.58 L532.64,48.8 L533.34,48.11 L534.04,47.51 L534.74,46.99 L535.44,46.54 L536.14,46.18 L536.84,45.89 L537.54,45.68 L538.25,45.54 L538.95,45.46 L539.65,45.46 L540.35,45.51 L541.05,45.63 L541.75,45.8 L542.45,46.04 L543.15,46.32 L543.85,46.66 L544.55,47.05 L545.25,47.49 L545.96,47.97 L546.66,48.49 L547.36,49.05 L548.06,49.65 L548.76,50.29 L549.46,50.96 L550.16,51.66 L550.86,52.38 L551.56,53.13 L552.26,53.91 L552.96,54.71 L553.67,55.52 L554.37,56.35 L555.07,57.2 L555.77,58.06 L556.47,58.92 L557.17,59.79 L557.87,60.67 L558.57,61.55 L559.27,62.43 L559.97,63.32 L560.67,64.21 L561.38,65.11 L562.08,66.03 L562.78,66.96 L563.48,67.91 L564.18,68.88 L564.88,69.88 L565.58,70.9 L566.28,71.95 L566.98,73.04 L567.68,74.16 L568.38,75.33 L569.09,76.53 L569.79,77.78 L570.49,79.08 L571.19,80.42 L571.89,81.82 L572.59,83.28 L573.29,84.79 L573.99,86.37 L574.69,87.98 L575.39,89.64 L576.09,91.31 L576.8,92.99 L577.5,94.67 L578.2,96.34 L578.9,97.99 L579.6,99.62 L580.3,101.23 L581,102.82 L581.7,104.39 L582.4,105.93 L583.1,107.45 L583.8,108.94 L584.51,110.4 L585.21,111.84 L585.91,113.24 L586.61,114.61 L587.31,115.95 L588.01,117.25 L588.71,118.51 L589.41,119.74 L590.11,120.93 L590.81,122.08 L591.51,123.19 L592.22,124.25 L592.92,125.27 L593.62,126.25 L594.32,127.18 L595.02,128.07 L595.72,128.91 L596.42,129.71 L597.12,130.48 L597.82,131.21 L598.52,131.9 L599.22,132.55 L599.93,133.18 L600.63,133.77 L601.33,134.33 L602.03,134.86 L602.73,135.36 L603.43,135.84 L604.13,136.29 L604.83,136.72 L605.53,137.12 L606.23,137.51 L606.93,137.87 L607.64,138.22 L608.34,138.55 L609.04,138.87 L609.74,139.17 L610.44,139.46 L611.14,139.75 L611.84,140.02 L612.54,140.28 L613.24,140.54 L613.94,140.79 L614.64,141.03 L615.35,141.28 L616.05,141.53 L616.75,141.77 L617.45,142.02 L618.15,142.27 L618.85,142.52 L619.55,142.79 L620.25,143.06 L620.95,143.34 L621.65,143.62 L622.35,143.91 L623.06,144.22 L623.76,144.52 L624.46,144.83 L625.16,145.15 L625.86,145.47 L626.56,145.8 L627.26,146.13 L627.96,146.46 L628.66,146.8 L629.36,147.13 L630.06,147.47 L630.77,147.81 L631.47,148.15 L632.17,148.49 L632.87,148.83 L633.57,149.17 L634.27,149.5 L634.97,149.83 L635.67,150.16 L636.37,150.49 L637.07,150.81 L637.77,151.13 L638.48,151.44 L639.18,151.75 L639.88,152.05 L640.58,152.34 L641.28,152.62 L641.98,152.9 L642.68,153.17 L643.38,153.43 L644.08,153.68 L644.78,153.92 L645.48,154.15 L646.19,154.37 L646.89,154.57 L647.59,154.77 L648.29,154.95 L648.99,155.12 L649.69,155.27 L650.39,155.41 L651.09,155.54 L651.79,155.64 L652.49,155.74 L653.19,155.81 L653.9,155.87 L654.6,155.91 L655.3,155.93 L656,155.94 L656.7,155.92 L657.4,155.89" fill="none" stroke="#5cc8f8" stroke-width="0.95" stroke-linejoin="round" stroke-linecap="round" opacity="1.0"/>
<path d="M503.2,128.57 L503.9,126.56 L504.6,124.51 L505.3,122.42 L506,120.31 L506.7,118.16 L507.41,116 L508.11,113.81 L508.81,111.61 L509.51,109.39 L510.21,107.17 L510.91,104.94 L511.61,102.71 L512.31,100.48 L513.01,98.26 L513.71,96.05 L514.41,93.85 L515.12,91.67 L515.82,89.51 L516.52,87.38 L517.22,85.27 L517.92,83.2 L518.62,81.17 L519.32,79.17 L520.02,77.22 L520.72,75.29 L521.42,73.39 L522.12,71.52 L522.83,69.66 L523.53,67.8 L524.23,65.95 L524.93,64.1 L525.63,62.24 L526.33,60.37 L527.03,58.5 L527.73,56.64 L528.43,54.8 L529.13,53 L529.83,51.25 L530.54,49.55 L531.24,47.92 L531.94,46.37 L532.64,44.91 L533.34,43.55 L534.04,42.31 L534.74,41.2 L535.44,40.21 L536.14,39.36 L536.84,38.64 L537.54,38.03 L538.25,37.54 L538.95,37.17 L539.65,36.9 L540.35,36.73 L541.05,36.66 L541.75,36.68 L542.45,36.79 L543.15,36.98 L543.85,37.24 L544.55,37.58 L545.25,37.99 L545.96,38.46 L546.66,38.99 L547.36,39.57 L548.06,40.2 L548.76,40.87 L549.46,41.58 L550.16,42.33 L550.86,43.12 L551.56,43.93 L552.26,44.77 L552.96,45.64 L553.67,46.52 L554.37,47.42 L555.07,48.33 L555.77,49.26 L556.47,50.19 L557.17,51.12 L557.87,52.06 L558.57,52.99 L559.27,53.91 L559.97,54.82 L560.67,55.72 L561.38,56.61 L562.08,57.51 L562.78,58.42 L563.48,59.36 L564.18,60.34 L564.88,61.37 L565.58,62.46 L566.28,63.62 L566.98,64.83 L567.68,66.11 L568.38,67.44 L569.09,68.82 L569.79,70.26 L570.49,71.74 L571.19,73.26 L571.89,74.82 L572.59,76.43 L573.29,78.07 L573.99,79.73 L574.69,81.43 L575.39,83.13 L576.09,84.85 L576.8,86.56 L577.5,88.26 L578.2,89.94 L578.9,91.6 L579.6,93.22 L580.3,94.8 L581,96.33 L581.7,97.82 L582.4,99.27 L583.1,100.69 L583.8,102.07 L584.51,103.44 L585.21,104.79 L585.91,106.12 L586.61,107.45 L587.31,108.77 L588.01,110.09 L588.71,111.41 L589.41,112.71 L590.11,114 L590.81,115.28 L591.51,116.54 L592.22,117.78 L592.92,119 L593.62,120.19 L594.32,121.36 L595.02,122.5 L595.72,123.6 L596.42,124.67 L597.12,125.71 L597.82,126.7 L598.52,127.65 L599.22,128.56 L599.93,129.42 L600.63,130.24 L601.33,131 L602.03,131.7 L602.73,132.37 L603.43,132.98 L604.13,133.56 L604.83,134.1 L605.53,134.62 L606.23,135.1 L606.93,135.56 L607.64,136 L608.34,136.43 L609.04,136.84 L609.74,137.25 L610.44,137.65 L611.14,138.06 L611.84,138.46 L612.54,138.85 L613.24,139.25 L613.94,139.64 L614.64,140.03 L615.35,140.42 L616.05,140.8 L616.75,141.19 L617.45,141.57 L618.15,141.94 L618.85,142.32 L619.55,142.69 L620.25,143.05 L620.95,143.42 L621.65,143.78 L622.35,144.14 L623.06,144.49 L623.76,144.84 L624.46,145.19 L625.16,145.53 L625.86,145.87 L626.56,146.21 L627.26,146.54 L627.96,146.87 L628.66,147.19 L629.36,147.51 L630.06,147.82 L630.77,148.13 L631.47,148.44 L632.17,148.74 L632.87,149.03 L633.57,149.33 L634.27,149.61 L634.97,149.89 L635.67,150.17 L636.37,150.44 L637.07,150.71 L637.77,150.97 L638.48,151.22 L639.18,151.47 L639.88,151.71 L640.58,151.95 L641.28,152.18 L641.98,152.41 L642.68,152.63 L643.38,152.84 L644.08,153.05 L644.78,153.25 L645.48,153.45 L646.19,153.64 L646.89,153.82 L647.59,154 L648.29,154.16 L648.99,154.33 L649.69,154.48 L650.39,154.63 L651.09,154.77 L651.79,154.91 L652.49,155.03 L653.19,155.15 L653.9,155.26 L654.6,155.37 L655.3,155.47 L656,155.56 L656.7,155.64 L657.4,155.71" fill="none" stroke="#3c9c3c" stroke-width="0.95" stroke-linejoin="round" stroke-linecap="round" opacity="1.0"/>
<path d="M509.5,113.03 L510.2,110.46 L510.9,107.95 L511.6,105.48 L512.3,103.06 L513,100.67 L513.71,98.32 L514.41,96.01 L515.11,93.73 L515.81,91.47 L516.51,89.24 L517.21,87.03 L517.91,84.85 L518.61,82.68 L519.31,80.52 L520.01,78.37 L520.72,76.24 L521.42,74.12 L522.12,72.02 L522.82,69.94 L523.52,67.88 L524.22,65.84 L524.92,63.84 L525.62,61.86 L526.32,59.92 L527.02,58.01 L527.72,56.15 L528.43,54.32 L529.13,52.54 L529.83,50.81 L530.53,49.14 L531.23,47.53 L531.93,46 L532.63,44.55 L533.33,43.19 L534.03,41.94 L534.73,40.8 L535.44,39.78 L536.14,38.88 L536.84,38.08 L537.54,37.4 L538.24,36.82 L538.94,36.34 L539.64,35.96 L540.34,35.67 L541.04,35.46 L541.74,35.34 L542.44,35.31 L543.15,35.35 L543.85,35.46 L544.55,35.65 L545.25,35.9 L545.95,36.22 L546.65,36.61 L547.35,37.05 L548.05,37.54 L548.75,38.09 L549.45,38.68 L550.15,39.32 L550.86,40.01 L551.56,40.73 L552.26,41.49 L552.96,42.28 L553.66,43.1 L554.36,43.95 L555.06,44.83 L555.76,45.72 L556.46,46.64 L557.16,47.56 L557.87,48.51 L558.57,49.46 L559.27,50.42 L559.97,51.38 L560.67,52.34 L561.37,53.3 L562.07,54.27 L562.77,55.24 L563.47,56.22 L564.17,57.22 L564.87,58.23 L565.58,59.26 L566.28,60.31 L566.98,61.39 L567.68,62.49 L568.38,63.62 L569.08,64.77 L569.78,65.95 L570.48,67.16 L571.18,68.39 L571.88,69.66 L572.59,70.94 L573.29,72.26 L573.99,73.6 L574.69,74.97 L575.39,76.37 L576.09,77.79 L576.79,79.25 L577.49,80.73 L578.19,82.23 L578.89,83.77 L579.59,85.33 L580.3,86.93 L581,88.54 L581.7,90.17 L582.4,91.81 L583.1,93.46 L583.8,95.11 L584.5,96.74 L585.2,98.37 L585.9,99.98 L586.6,101.56 L587.31,103.1 L588.01,104.61 L588.71,106.08 L589.41,107.51 L590.11,108.89 L590.81,110.24 L591.51,111.55 L592.21,112.81 L592.91,114.04 L593.61,115.23 L594.31,116.39 L595.02,117.51 L595.72,118.6 L596.42,119.65 L597.12,120.67 L597.82,121.66 L598.52,122.62 L599.22,123.54 L599.92,124.44 L600.62,125.31 L601.32,126.15 L602.03,126.96 L602.73,127.75 L603.43,128.51 L604.13,129.25 L604.83,129.96 L605.53,130.65 L606.23,131.32 L606.93,131.97 L607.63,132.6 L608.33,133.21 L609.03,133.8 L609.74,134.37 L610.44,134.92 L611.14,135.46 L611.84,135.98 L612.54,136.49 L613.24,136.99 L613.94,137.47 L614.64,137.94 L615.34,138.4 L616.04,138.84 L616.75,139.28 L617.45,139.71 L618.15,140.13 L618.85,140.55 L619.55,140.96 L620.25,141.36 L620.95,141.76 L621.65,142.15 L622.35,142.54 L623.05,142.93 L623.75,143.3 L624.46,143.68 L625.16,144.05 L625.86,144.41 L626.56,144.77 L627.26,145.13 L627.96,145.48 L628.66,145.82 L629.36,146.16 L630.06,146.5 L630.76,146.83 L631.46,147.15 L632.17,147.47 L632.87,147.79 L633.57,148.1 L634.27,148.4 L634.97,148.7 L635.67,149 L636.37,149.29 L637.07,149.57 L637.77,149.86 L638.47,150.13 L639.18,150.4 L639.88,150.67 L640.58,150.93 L641.28,151.19 L641.98,151.44 L642.68,151.68 L643.38,151.93 L644.08,152.16 L644.78,152.39 L645.48,152.62 L646.18,152.84 L646.89,153.06 L647.59,153.27 L648.29,153.48 L648.99,153.68 L649.69,153.88 L650.39,154.07 L651.09,154.25 L651.79,154.44 L652.49,154.61 L653.19,154.79 L653.9,154.95 L654.6,155.11 L655.3,155.27 L656,155.42 L656.7,155.57 L657.4,155.71" fill="none" stroke="#ff44ff" stroke-width="0.95" stroke-linejoin="round" stroke-linecap="round" opacity="1.0"/>
<line x1="626.3" y1="30.2" x2="640.5" y2="30.2" stroke="#5cc8f8" stroke-width="1.0" />
<text x="642.6" y="32.27" font-size="6.1" font-weight="bold" text-anchor="start" fill="#1e1e1e" stroke="#1e1e1e" stroke-width="0.22" >310nm</text>
<line x1="626.3" y1="38.4" x2="640.5" y2="38.4" stroke="#3c9c3c" stroke-width="1.0" />
<text x="642.6" y="40.47" font-size="6.1" font-weight="bold" text-anchor="start" fill="#1e1e1e" stroke="#1e1e1e" stroke-width="0.22" >320nm</text>
<line x1="626.3" y1="46.5" x2="640.5" y2="46.5" stroke="#ff44ff" stroke-width="1.0" />
<text x="642.6" y="48.57" font-size="6.1" font-weight="bold" text-anchor="start" fill="#1e1e1e" stroke="#1e1e1e" stroke-width="0.22" >330nm</text>
<line x1="626.3" y1="54.6" x2="640.5" y2="54.6" stroke="#ffa460" stroke-width="1.0" />
<text x="642.6" y="56.67" font-size="6.1" font-weight="bold" text-anchor="start" fill="#1e1e1e" stroke="#1e1e1e" stroke-width="0.22" >340nm</text>
<line x1="626.3" y1="62.8" x2="640.5" y2="62.8" stroke="#f6ee98" stroke-width="1.0" />
<text x="642.6" y="64.87" font-size="6.1" font-weight="bold" text-anchor="start" fill="#1e1e1e" stroke="#1e1e1e" stroke-width="0.22" >350nm</text>
<line x1="626.3" y1="71.1" x2="640.5" y2="71.1" stroke="#ffb4e0" stroke-width="1.0" />
<text x="642.6" y="73.17" font-size="6.1" font-weight="bold" text-anchor="start" fill="#1e1e1e" stroke="#1e1e1e" stroke-width="0.22" >360nm</text>
<line x1="32" y1="355.6" x2="32" y2="358.2" stroke="#525252" stroke-width="1.0" />
<line x1="74.35" y1="355.6" x2="74.35" y2="358.2" stroke="#525252" stroke-width="1.0" />
<line x1="116.7" y1="355.6" x2="116.7" y2="358.2" stroke="#525252" stroke-width="1.0" />
<line x1="159.05" y1="355.6" x2="159.05" y2="358.2" stroke="#525252" stroke-width="1.0" />
<line x1="201.4" y1="355.6" x2="201.4" y2="358.2" stroke="#525252" stroke-width="1.0" />
<line x1="53.17" y1="355.6" x2="53.17" y2="357.1" stroke="#525252" stroke-width="1.0" />
<line x1="95.53" y1="355.6" x2="95.53" y2="357.1" stroke="#525252" stroke-width="1.0" />
<line x1="137.88" y1="355.6" x2="137.88" y2="357.1" stroke="#525252" stroke-width="1.0" />
<line x1="180.22" y1="355.6" x2="180.22" y2="357.1" stroke="#525252" stroke-width="1.0" />
<line x1="32" y1="355.6" x2="29.4" y2="355.6" stroke="#525252" stroke-width="1.0" />
<line x1="32" y1="339.6" x2="30.5" y2="339.6" stroke="#525252" stroke-width="1.0" />
<line x1="32" y1="323.6" x2="29.4" y2="323.6" stroke="#525252" stroke-width="1.0" />
<line x1="32" y1="307.6" x2="30.5" y2="307.6" stroke="#525252" stroke-width="1.0" />
<line x1="32" y1="291.6" x2="29.4" y2="291.6" stroke="#525252" stroke-width="1.0" />
<line x1="32" y1="275.6" x2="30.5" y2="275.6" stroke="#525252" stroke-width="1.0" />
<line x1="32" y1="259.6" x2="29.4" y2="259.6" stroke="#525252" stroke-width="1.0" />
<line x1="32" y1="243.6" x2="30.5" y2="243.6" stroke="#525252" stroke-width="1.0" />
<line x1="32" y1="227.6" x2="29.4" y2="227.6" stroke="#525252" stroke-width="1.0" />
<rect x="32" y="212.8" width="169.4" height="142.8" fill="none" stroke="#525252" stroke-width="1.0"/>
<text x="32" y="365.05" font-size="6.5" font-weight="bold" text-anchor="middle" fill="#1e1e1e" stroke="#1e1e1e" stroke-width="0.22" >400</text>
<text x="74.35" y="365.05" font-size="6.5" font-weight="bold" text-anchor="middle" fill="#1e1e1e" stroke="#1e1e1e" stroke-width="0.22" >450</text>
<text x="116.7" y="365.05" font-size="6.5" font-weight="bold" text-anchor="middle" fill="#1e1e1e" stroke="#1e1e1e" stroke-width="0.22" >500</text>
<text x="159.05" y="365.05" font-size="6.5" font-weight="bold" text-anchor="middle" fill="#1e1e1e" stroke="#1e1e1e" stroke-width="0.22" >550</text>
<text x="201.4" y="365.05" font-size="6.5" font-weight="bold" text-anchor="middle" fill="#1e1e1e" stroke="#1e1e1e" stroke-width="0.22" >600</text>
<text x="27.4" y="357.55" font-size="6.5" font-weight="bold" text-anchor="end" fill="#1e1e1e" stroke="#1e1e1e" stroke-width="0.22" >0</text>
<text x="27.4" y="325.55" font-size="6.5" font-weight="bold" text-anchor="end" fill="#1e1e1e" stroke="#1e1e1e" stroke-width="0.22" >500</text>
<text x="27.4" y="293.55" font-size="6.5" font-weight="bold" text-anchor="end" fill="#1e1e1e" stroke="#1e1e1e" stroke-width="0.22" >1000</text>
<text x="27.4" y="261.55" font-size="6.5" font-weight="bold" text-anchor="end" fill="#1e1e1e" stroke="#1e1e1e" stroke-width="0.22" >1500</text>
<text x="27.4" y="229.55" font-size="6.5" font-weight="bold" text-anchor="end" fill="#1e1e1e" stroke="#1e1e1e" stroke-width="0.22" >2000</text>
<text x="116.7" y="377.7" font-size="7.75" font-weight="bold" text-anchor="middle" fill="#1e1e1e" stroke="#1e1e1e" stroke-width="0.22" >Wavelength (nm)</text>
<text x="9.7" y="283.7" font-size="7.85" font-weight="bold" text-anchor="middle" fill="#1e1e1e" stroke="#1e1e1e" stroke-width="0.22" transform="rotate(-90 9.7 283.7)" >FL Intensity (a.u.)</text>
<text x="0.43" y="205.25" font-size="21" font-weight="bold" text-anchor="start" fill="#000" >D</text>
<path d="M74.1,313.19 L74.8,313.13 L75.5,313.06 L76.21,312.99 L76.91,312.91 L77.61,312.82 L78.31,312.74 L79.02,312.64 L79.72,312.55 L80.42,312.45 L81.12,312.34 L81.82,312.24 L82.53,312.13 L83.23,312.01 L83.93,311.9 L84.63,311.78 L85.34,311.66 L86.04,311.54 L86.74,311.42 L87.44,311.29 L88.14,311.17 L88.85,311.04 L89.55,310.91 L90.25,310.78 L90.95,310.66 L91.66,310.53 L92.36,310.4 L93.06,310.27 L93.76,310.15 L94.46,310.02 L95.17,309.9 L95.87,309.78 L96.57,309.66 L97.27,309.54 L97.98,309.43 L98.68,309.31 L99.38,309.2 L100.08,309.09 L100.78,308.99 L101.49,308.89 L102.19,308.79 L102.89,308.7 L103.59,308.61 L104.3,308.53 L105,308.45 L105.7,308.38 L106.4,308.31 L107.1,308.25 L107.81,308.2 L108.51,308.15 L109.21,308.11 L109.91,308.08 L110.61,308.06 L111.32,308.05 L112.02,308.05 L112.72,308.06 L113.42,308.08 L114.13,308.12 L114.83,308.16 L115.53,308.22 L116.23,308.29 L116.93,308.38 L117.64,308.48 L118.34,308.59 L119.04,308.72 L119.74,308.87 L120.45,309.03 L121.15,309.21 L121.85,309.41 L122.55,309.62 L123.25,309.86 L123.96,310.11 L124.66,310.38 L125.36,310.68 L126.06,310.99 L126.77,311.32 L127.47,311.68 L128.17,312.05 L128.87,312.44 L129.57,312.84 L130.28,313.26 L130.98,313.69 L131.68,314.14 L132.38,314.6 L133.09,315.08 L133.79,315.56 L134.49,316.06 L135.19,316.56 L135.89,317.08 L136.6,317.6 L137.3,318.13 L138,318.66 L138.7,319.2 L139.41,319.74 L140.11,320.29 L140.81,320.84 L141.51,321.39 L142.21,321.94 L142.92,322.5 L143.62,323.05 L144.32,323.6 L145.02,324.14 L145.73,324.69 L146.43,325.22 L147.13,325.76 L147.83,326.29 L148.53,326.81 L149.24,327.32 L149.94,327.82 L150.64,328.32 L151.34,328.81 L152.05,329.3 L152.75,329.77 L153.45,330.24 L154.15,330.71 L154.85,331.16 L155.56,331.61 L156.26,332.06 L156.96,332.5 L157.66,332.94 L158.37,333.37 L159.07,333.79 L159.77,334.21 L160.47,334.63 L161.17,335.04 L161.88,335.45 L162.58,335.85 L163.28,336.26 L163.98,336.65 L164.69,337.05 L165.39,337.44 L166.09,337.83 L166.79,338.22 L167.49,338.6 L168.2,338.98 L168.9,339.36 L169.6,339.73 L170.3,340.1 L171,340.47 L171.71,340.83 L172.41,341.19 L173.11,341.54 L173.81,341.89 L174.52,342.24 L175.22,342.58 L175.92,342.91 L176.62,343.24 L177.32,343.56 L178.03,343.88 L178.73,344.2 L179.43,344.5 L180.13,344.8 L180.84,345.1 L181.54,345.39 L182.24,345.67 L182.94,345.94 L183.64,346.21 L184.35,346.48 L185.05,346.73 L185.75,346.98 L186.45,347.22 L187.16,347.45 L187.86,347.68 L188.56,347.89 L189.26,348.1 L189.96,348.3 L190.67,348.49 L191.37,348.68 L192.07,348.85 L192.77,349.02 L193.48,349.17 L194.18,349.32 L194.88,349.46 L195.58,349.59 L196.28,349.71 L196.99,349.82 L197.69,349.92 L198.39,350.01 L199.09,350.08 L199.8,350.15 L200.5,350.21 L201.2,350.26" fill="none" stroke="#56baf2" stroke-width="0.95" stroke-linejoin="round" stroke-linecap="round" opacity="1.0"/>
<path d="M65.6,306.34 L66.3,306.07 L67.01,305.78 L67.71,305.48 L68.41,305.18 L69.11,304.87 L69.82,304.56 L70.52,304.24 L71.22,303.92 L71.92,303.6 L72.63,303.28 L73.33,302.95 L74.03,302.63 L74.73,302.31 L75.44,301.99 L76.14,301.68 L76.84,301.37 L77.54,301.07 L78.25,300.77 L78.95,300.49 L79.65,300.21 L80.35,299.94 L81.06,299.68 L81.76,299.44 L82.46,299.21 L83.16,298.99 L83.87,298.79 L84.57,298.6 L85.27,298.43 L85.98,298.28 L86.68,298.15 L87.38,298.03 L88.08,297.94 L88.79,297.87 L89.49,297.83 L90.19,297.8 L90.89,297.8 L91.6,297.83 L92.3,297.89 L93,297.97 L93.7,298.07 L94.41,298.2 L95.11,298.35 L95.81,298.52 L96.51,298.7 L97.22,298.9 L97.92,299.11 L98.62,299.34 L99.32,299.58 L100.03,299.82 L100.73,300.07 L101.43,300.33 L102.13,300.59 L102.84,300.86 L103.54,301.12 L104.24,301.38 L104.95,301.64 L105.65,301.9 L106.35,302.15 L107.05,302.39 L107.76,302.62 L108.46,302.84 L109.16,303.05 L109.86,303.25 L110.57,303.43 L111.27,303.6 L111.97,303.77 L112.67,303.93 L113.38,304.08 L114.08,304.24 L114.78,304.39 L115.48,304.55 L116.19,304.71 L116.89,304.88 L117.59,305.06 L118.29,305.25 L119,305.46 L119.7,305.68 L120.4,305.91 L121.1,306.17 L121.81,306.45 L122.51,306.75 L123.21,307.08 L123.92,307.43 L124.62,307.81 L125.32,308.22 L126.02,308.65 L126.73,309.11 L127.43,309.58 L128.13,310.08 L128.83,310.59 L129.54,311.12 L130.24,311.66 L130.94,312.22 L131.64,312.79 L132.35,313.37 L133.05,313.96 L133.75,314.55 L134.45,315.15 L135.16,315.76 L135.86,316.37 L136.56,316.97 L137.26,317.58 L137.97,318.19 L138.67,318.79 L139.37,319.38 L140.07,319.97 L140.78,320.56 L141.48,321.13 L142.18,321.7 L142.88,322.27 L143.59,322.82 L144.29,323.37 L144.99,323.92 L145.7,324.45 L146.4,324.98 L147.1,325.5 L147.8,326.01 L148.51,326.52 L149.21,327.02 L149.91,327.51 L150.61,327.99 L151.32,328.47 L152.02,328.93 L152.72,329.4 L153.42,329.86 L154.13,330.31 L154.83,330.75 L155.53,331.19 L156.23,331.63 L156.94,332.06 L157.64,332.48 L158.34,332.91 L159.04,333.32 L159.75,333.74 L160.45,334.15 L161.15,334.55 L161.85,334.96 L162.56,335.36 L163.26,335.75 L163.96,336.15 L164.67,336.54 L165.37,336.93 L166.07,337.32 L166.77,337.71 L167.48,338.1 L168.18,338.48 L168.88,338.86 L169.58,339.24 L170.29,339.61 L170.99,339.98 L171.69,340.35 L172.39,340.72 L173.1,341.08 L173.8,341.43 L174.5,341.78 L175.2,342.13 L175.91,342.47 L176.61,342.81 L177.31,343.14 L178.01,343.47 L178.72,343.79 L179.42,344.1 L180.12,344.41 L180.82,344.71 L181.53,345.01 L182.23,345.3 L182.93,345.58 L183.64,345.86 L184.34,346.13 L185.04,346.39 L185.74,346.64 L186.45,346.88 L187.15,347.12 L187.85,347.35 L188.55,347.57 L189.26,347.78 L189.96,347.98 L190.66,348.17 L191.36,348.35 L192.07,348.53 L192.77,348.69 L193.47,348.84 L194.17,348.99 L194.88,349.12 L195.58,349.24 L196.28,349.35 L196.98,349.45 L197.69,349.54 L198.39,349.62 L199.09,349.68 L199.79,349.73 L200.5,349.77 L201.2,349.8" fill="none" stroke="#c4f2ff" stroke-width="0.95" stroke-linejoin="round" stroke-linecap="round" opacity="1.0"/>
<path d="M57.1,297.01 L57.8,296.44 L58.51,295.86 L59.21,295.28 L59.91,294.7 L60.61,294.12 L61.32,293.54 L62.02,292.96 L62.72,292.38 L63.43,291.81 L64.13,291.24 L64.83,290.68 L65.54,290.13 L66.24,289.59 L66.94,289.06 L67.64,288.54 L68.35,288.03 L69.05,287.54 L69.75,287.07 L70.46,286.61 L71.16,286.17 L71.86,285.75 L72.56,285.35 L73.27,284.98 L73.97,284.63 L74.67,284.3 L75.38,284 L76.08,283.73 L76.78,283.48 L77.48,283.27 L78.19,283.09 L78.89,282.94 L79.59,282.82 L80.3,282.73 L81,282.68 L81.7,282.65 L82.41,282.66 L83.11,282.69 L83.81,282.76 L84.51,282.85 L85.22,282.97 L85.92,283.11 L86.62,283.29 L87.33,283.49 L88.03,283.71 L88.73,283.96 L89.43,284.23 L90.14,284.51 L90.84,284.82 L91.54,285.14 L92.25,285.48 L92.95,285.83 L93.65,286.19 L94.36,286.57 L95.06,286.95 L95.76,287.34 L96.46,287.73 L97.17,288.13 L97.87,288.53 L98.57,288.93 L99.28,289.33 L99.98,289.73 L100.68,290.13 L101.38,290.54 L102.09,290.94 L102.79,291.35 L103.49,291.75 L104.2,292.16 L104.9,292.56 L105.6,292.96 L106.3,293.36 L107.01,293.76 L107.71,294.16 L108.41,294.55 L109.12,294.95 L109.82,295.35 L110.52,295.75 L111.23,296.15 L111.93,296.55 L112.63,296.96 L113.33,297.37 L114.04,297.79 L114.74,298.21 L115.44,298.64 L116.15,299.08 L116.85,299.52 L117.55,299.97 L118.25,300.43 L118.96,300.91 L119.66,301.39 L120.36,301.88 L121.07,302.39 L121.77,302.91 L122.47,303.44 L123.18,303.97 L123.88,304.52 L124.58,305.08 L125.28,305.64 L125.99,306.22 L126.69,306.8 L127.39,307.38 L128.1,307.98 L128.8,308.58 L129.5,309.18 L130.2,309.79 L130.91,310.41 L131.61,311.03 L132.31,311.65 L133.02,312.27 L133.72,312.9 L134.42,313.53 L135.12,314.16 L135.83,314.79 L136.53,315.42 L137.23,316.05 L137.94,316.68 L138.64,317.31 L139.34,317.94 L140.05,318.57 L140.75,319.19 L141.45,319.81 L142.15,320.42 L142.86,321.03 L143.56,321.64 L144.26,322.24 L144.97,322.83 L145.67,323.42 L146.37,324 L147.07,324.57 L147.78,325.14 L148.48,325.69 L149.18,326.24 L149.89,326.78 L150.59,327.31 L151.29,327.83 L152,328.34 L152.7,328.85 L153.4,329.35 L154.1,329.84 L154.81,330.32 L155.51,330.8 L156.21,331.26 L156.92,331.73 L157.62,332.18 L158.32,332.63 L159.02,333.08 L159.73,333.51 L160.43,333.95 L161.13,334.38 L161.84,334.8 L162.54,335.22 L163.24,335.63 L163.94,336.04 L164.65,336.44 L165.35,336.85 L166.05,337.24 L166.76,337.64 L167.46,338.03 L168.16,338.41 L168.87,338.8 L169.57,339.17 L170.27,339.55 L170.97,339.91 L171.68,340.28 L172.38,340.64 L173.08,340.99 L173.79,341.34 L174.49,341.68 L175.19,342.02 L175.89,342.35 L176.6,342.68 L177.3,343 L178,343.32 L178.71,343.63 L179.41,343.93 L180.11,344.23 L180.82,344.52 L181.52,344.81 L182.22,345.09 L182.92,345.36 L183.63,345.62 L184.33,345.88 L185.03,346.13 L185.74,346.37 L186.44,346.61 L187.14,346.84 L187.84,347.06 L188.55,347.27 L189.25,347.48 L189.95,347.68 L190.66,347.87 L191.36,348.05 L192.06,348.22 L192.76,348.39 L193.47,348.55 L194.17,348.69 L194.87,348.83 L195.58,348.96 L196.28,349.08 L196.98,349.2 L197.69,349.3 L198.39,349.39 L199.09,349.48 L199.79,349.55 L200.5,349.61 L201.2,349.67" fill="none" stroke="#f8a4dc" stroke-width="0.95" stroke-linejoin="round" stroke-linecap="round" opacity="1.0"/>
<path d="M48.9,288.76 L49.6,287.91 L50.3,287.04 L51.01,286.13 L51.71,285.2 L52.41,284.25 L53.11,283.29 L53.81,282.31 L54.51,281.32 L55.22,280.33 L55.92,279.34 L56.62,278.35 L57.32,277.36 L58.02,276.39 L58.73,275.43 L59.43,274.49 L60.13,273.57 L60.83,272.67 L61.53,271.81 L62.24,270.98 L62.94,270.18 L63.64,269.43 L64.34,268.72 L65.04,268.05 L65.74,267.42 L66.45,266.84 L67.15,266.3 L67.85,265.81 L68.55,265.36 L69.25,264.95 L69.96,264.58 L70.66,264.26 L71.36,263.99 L72.06,263.75 L72.76,263.57 L73.46,263.42 L74.17,263.32 L74.87,263.26 L75.57,263.25 L76.27,263.28 L76.97,263.35 L77.68,263.46 L78.38,263.61 L79.08,263.8 L79.78,264.01 L80.48,264.27 L81.18,264.55 L81.89,264.86 L82.59,265.2 L83.29,265.57 L83.99,265.96 L84.69,266.37 L85.4,266.8 L86.1,267.25 L86.8,267.72 L87.5,268.21 L88.2,268.71 L88.91,269.22 L89.61,269.74 L90.31,270.27 L91.01,270.8 L91.71,271.35 L92.41,271.89 L93.12,272.44 L93.82,272.99 L94.52,273.53 L95.22,274.08 L95.92,274.63 L96.63,275.18 L97.33,275.73 L98.03,276.28 L98.73,276.84 L99.43,277.39 L100.13,277.94 L100.84,278.49 L101.54,279.05 L102.24,279.6 L102.94,280.16 L103.64,280.72 L104.35,281.28 L105.05,281.83 L105.75,282.39 L106.45,282.96 L107.15,283.52 L107.85,284.08 L108.56,284.65 L109.26,285.21 L109.96,285.78 L110.66,286.35 L111.36,286.91 L112.07,287.49 L112.77,288.06 L113.47,288.63 L114.17,289.21 L114.87,289.78 L115.58,290.36 L116.28,290.94 L116.98,291.52 L117.68,292.1 L118.38,292.69 L119.08,293.27 L119.79,293.86 L120.49,294.45 L121.19,295.04 L121.89,295.63 L122.59,296.24 L123.3,296.84 L124,297.46 L124.7,298.08 L125.4,298.72 L126.1,299.37 L126.8,300.03 L127.51,300.71 L128.21,301.4 L128.91,302.11 L129.61,302.83 L130.31,303.58 L131.02,304.35 L131.72,305.14 L132.42,305.96 L133.12,306.8 L133.82,307.66 L134.52,308.53 L135.23,309.41 L135.93,310.3 L136.63,311.2 L137.33,312.09 L138.03,312.98 L138.74,313.86 L139.44,314.73 L140.14,315.59 L140.84,316.42 L141.54,317.23 L142.25,318.02 L142.95,318.8 L143.65,319.55 L144.35,320.29 L145.05,321 L145.75,321.7 L146.46,322.39 L147.16,323.05 L147.86,323.7 L148.56,324.34 L149.26,324.96 L149.97,325.57 L150.67,326.16 L151.37,326.74 L152.07,327.3 L152.77,327.86 L153.47,328.4 L154.18,328.93 L154.88,329.45 L155.58,329.95 L156.28,330.45 L156.98,330.94 L157.69,331.42 L158.39,331.9 L159.09,332.36 L159.79,332.82 L160.49,333.27 L161.19,333.72 L161.9,334.15 L162.6,334.59 L163.3,335.02 L164,335.44 L164.7,335.86 L165.41,336.28 L166.11,336.7 L166.81,337.11 L167.51,337.52 L168.21,337.92 L168.92,338.32 L169.62,338.72 L170.32,339.12 L171.02,339.51 L171.72,339.89 L172.42,340.27 L173.13,340.65 L173.83,341.02 L174.53,341.39 L175.23,341.75 L175.93,342.1 L176.64,342.46 L177.34,342.8 L178.04,343.14 L178.74,343.47 L179.44,343.8 L180.14,344.12 L180.85,344.44 L181.55,344.75 L182.25,345.05 L182.95,345.35 L183.65,345.64 L184.36,345.92 L185.06,346.19 L185.76,346.46 L186.46,346.72 L187.16,346.97 L187.86,347.21 L188.57,347.45 L189.27,347.68 L189.97,347.89 L190.67,348.1 L191.37,348.31 L192.08,348.5 L192.78,348.68 L193.48,348.86 L194.18,349.02 L194.88,349.18 L195.59,349.33 L196.29,349.46 L196.99,349.59 L197.69,349.71 L198.39,349.81 L199.09,349.91 L199.8,349.99 L200.5,350.07 L201.2,350.13" fill="none" stroke="#48e848" stroke-width="0.95" stroke-linejoin="round" stroke-linecap="round" opacity="1.0"/>
<path d="M40.5,281.27 L41.2,280.07 L41.9,278.84 L42.61,277.59 L43.31,276.32 L44.01,275.03 L44.71,273.73 L45.41,272.42 L46.11,271.11 L46.82,269.79 L47.52,268.47 L48.22,267.16 L48.92,265.85 L49.62,264.55 L50.32,263.27 L51.03,262 L51.73,260.75 L52.43,259.53 L53.13,258.33 L53.83,257.16 L54.53,256.02 L55.24,254.92 L55.94,253.85 L56.64,252.83 L57.34,251.86 L58.04,250.92 L58.75,250.03 L59.45,249.19 L60.15,248.39 L60.85,247.63 L61.55,246.93 L62.25,246.27 L62.96,245.66 L63.66,245.1 L64.36,244.58 L65.06,244.12 L65.76,243.71 L66.46,243.35 L67.17,243.04 L67.87,242.79 L68.57,242.58 L69.27,242.44 L69.97,242.34 L70.68,242.3 L71.38,242.32 L72.08,242.39 L72.78,242.52 L73.48,242.69 L74.18,242.92 L74.89,243.19 L75.59,243.5 L76.29,243.86 L76.99,244.26 L77.69,244.7 L78.39,245.18 L79.1,245.68 L79.8,246.23 L80.5,246.8 L81.2,247.4 L81.9,248.03 L82.6,248.68 L83.31,249.35 L84.01,250.05 L84.71,250.76 L85.41,251.49 L86.11,252.23 L86.82,252.99 L87.52,253.75 L88.22,254.52 L88.92,255.3 L89.62,256.09 L90.32,256.87 L91.03,257.66 L91.73,258.44 L92.43,259.22 L93.13,259.99 L93.83,260.75 L94.53,261.51 L95.24,262.26 L95.94,263 L96.64,263.74 L97.34,264.47 L98.04,265.2 L98.74,265.92 L99.45,266.63 L100.15,267.34 L100.85,268.05 L101.55,268.75 L102.25,269.45 L102.96,270.15 L103.66,270.84 L104.36,271.54 L105.06,272.23 L105.76,272.92 L106.46,273.6 L107.17,274.29 L107.87,274.98 L108.57,275.67 L109.27,276.36 L109.97,277.05 L110.67,277.74 L111.38,278.43 L112.08,279.12 L112.78,279.82 L113.48,280.52 L114.18,281.22 L114.89,281.93 L115.59,282.64 L116.29,283.35 L116.99,284.07 L117.69,284.8 L118.39,285.53 L119.1,286.26 L119.8,287.01 L120.5,287.76 L121.2,288.51 L121.9,289.28 L122.6,290.05 L123.31,290.82 L124.01,291.61 L124.71,292.4 L125.41,293.21 L126.11,294.02 L126.81,294.83 L127.52,295.66 L128.22,296.5 L128.92,297.34 L129.62,298.2 L130.32,299.06 L131.03,299.94 L131.73,300.82 L132.43,301.72 L133.13,302.62 L133.83,303.54 L134.53,304.46 L135.24,305.4 L135.94,306.34 L136.64,307.29 L137.34,308.24 L138.04,309.18 L138.74,310.13 L139.45,311.06 L140.15,311.98 L140.85,312.89 L141.55,313.79 L142.25,314.66 L142.96,315.51 L143.66,316.34 L144.36,317.15 L145.06,317.93 L145.76,318.69 L146.46,319.43 L147.17,320.14 L147.87,320.84 L148.57,321.52 L149.27,322.18 L149.97,322.83 L150.67,323.46 L151.38,324.07 L152.08,324.67 L152.78,325.25 L153.48,325.82 L154.18,326.38 L154.88,326.93 L155.59,327.47 L156.29,327.99 L156.99,328.51 L157.69,329.02 L158.39,329.52 L159.1,330.01 L159.8,330.5 L160.5,330.98 L161.2,331.46 L161.9,331.93 L162.6,332.4 L163.31,332.87 L164.01,333.34 L164.71,333.8 L165.41,334.26 L166.11,334.72 L166.81,335.18 L167.52,335.63 L168.22,336.08 L168.92,336.53 L169.62,336.98 L170.32,337.42 L171.02,337.85 L171.73,338.28 L172.43,338.71 L173.13,339.14 L173.83,339.55 L174.53,339.97 L175.24,340.37 L175.94,340.78 L176.64,341.17 L177.34,341.56 L178.04,341.95 L178.74,342.33 L179.45,342.7 L180.15,343.06 L180.85,343.42 L181.55,343.77 L182.25,344.11 L182.95,344.45 L183.66,344.78 L184.36,345.1 L185.06,345.41 L185.76,345.71 L186.46,346 L187.17,346.29 L187.87,346.56 L188.57,346.83 L189.27,347.09 L189.97,347.33 L190.67,347.57 L191.38,347.8 L192.08,348.01 L192.78,348.22 L193.48,348.41 L194.18,348.6 L194.88,348.77 L195.59,348.93 L196.29,349.08 L196.99,349.22 L197.69,349.34 L198.39,349.45 L199.09,349.55 L199.8,349.64 L200.5,349.71 L201.2,349.77" fill="none" stroke="#8cb44c" stroke-width="0.95" stroke-linejoin="round" stroke-linecap="round" opacity="1.0"/>
<path d="M32.1,272.95 L32.8,271.44 L33.5,269.89 L34.2,268.32 L34.91,266.73 L35.61,265.12 L36.31,263.49 L37.01,261.84 L37.71,260.19 L38.41,258.53 L39.12,256.86 L39.82,255.2 L40.52,253.54 L41.22,251.89 L41.92,250.25 L42.62,248.62 L43.33,247 L44.03,245.41 L44.73,243.85 L45.43,242.3 L46.13,240.79 L46.83,239.32 L47.54,237.88 L48.24,236.48 L48.94,235.13 L49.64,233.82 L50.34,232.56 L51.04,231.36 L51.75,230.21 L52.45,229.12 L53.15,228.09 L53.85,227.12 L54.55,226.2 L55.25,225.34 L55.96,224.53 L56.66,223.79 L57.36,223.09 L58.06,222.46 L58.76,221.88 L59.46,221.36 L60.17,220.9 L60.87,220.49 L61.57,220.14 L62.27,219.84 L62.97,219.6 L63.67,219.42 L64.38,219.29 L65.08,219.22 L65.78,219.21 L66.48,219.25 L67.18,219.35 L67.88,219.5 L68.59,219.7 L69.29,219.96 L69.99,220.27 L70.69,220.62 L71.39,221.03 L72.09,221.49 L72.8,221.99 L73.5,222.54 L74.2,223.14 L74.9,223.78 L75.6,224.46 L76.3,225.19 L77.01,225.96 L77.71,226.77 L78.41,227.62 L79.11,228.5 L79.81,229.43 L80.51,230.39 L81.22,231.39 L81.92,232.42 L82.62,233.49 L83.32,234.58 L84.02,235.71 L84.72,236.86 L85.43,238.04 L86.13,239.24 L86.83,240.46 L87.53,241.69 L88.23,242.93 L88.93,244.19 L89.64,245.45 L90.34,246.71 L91.04,247.98 L91.74,249.24 L92.44,250.49 L93.14,251.74 L93.85,252.98 L94.55,254.21 L95.25,255.42 L95.95,256.6 L96.65,257.77 L97.35,258.91 L98.06,260.03 L98.76,261.11 L99.46,262.16 L100.16,263.19 L100.86,264.19 L101.56,265.17 L102.27,266.12 L102.97,267.05 L103.67,267.95 L104.37,268.84 L105.07,269.71 L105.77,270.56 L106.48,271.4 L107.18,272.22 L107.88,273.04 L108.58,273.83 L109.28,274.62 L109.98,275.4 L110.69,276.18 L111.39,276.94 L112.09,277.71 L112.79,278.46 L113.49,279.22 L114.19,279.97 L114.9,280.71 L115.6,281.46 L116.3,282.21 L117,282.96 L117.7,283.71 L118.4,284.46 L119.11,285.22 L119.81,285.98 L120.51,286.74 L121.21,287.52 L121.91,288.3 L122.61,289.08 L123.32,289.88 L124.02,290.69 L124.72,291.5 L125.42,292.33 L126.12,293.18 L126.82,294.03 L127.53,294.9 L128.23,295.79 L128.93,296.69 L129.63,297.6 L130.33,298.53 L131.03,299.46 L131.74,300.4 L132.44,301.35 L133.14,302.3 L133.84,303.26 L134.54,304.22 L135.24,305.17 L135.95,306.13 L136.65,307.08 L137.35,308.02 L138.05,308.95 L138.75,309.88 L139.45,310.79 L140.16,311.7 L140.86,312.58 L141.56,313.45 L142.26,314.3 L142.96,315.13 L143.66,315.94 L144.37,316.73 L145.07,317.5 L145.77,318.25 L146.47,318.99 L147.17,319.7 L147.87,320.4 L148.58,321.09 L149.28,321.76 L149.98,322.42 L150.68,323.06 L151.38,323.69 L152.08,324.31 L152.79,324.91 L153.49,325.51 L154.19,326.09 L154.89,326.66 L155.59,327.23 L156.29,327.78 L157,328.32 L157.7,328.85 L158.4,329.38 L159.1,329.89 L159.8,330.4 L160.5,330.89 L161.21,331.38 L161.91,331.86 L162.61,332.34 L163.31,332.8 L164.01,333.26 L164.71,333.71 L165.42,334.16 L166.12,334.59 L166.82,335.03 L167.52,335.45 L168.22,335.88 L168.92,336.29 L169.63,336.7 L170.33,337.11 L171.03,337.51 L171.73,337.91 L172.43,338.31 L173.13,338.7 L173.84,339.09 L174.54,339.47 L175.24,339.85 L175.94,340.23 L176.64,340.61 L177.34,340.99 L178.05,341.37 L178.75,341.74 L179.45,342.11 L180.15,342.48 L180.85,342.85 L181.55,343.22 L182.26,343.58 L182.96,343.93 L183.66,344.28 L184.36,344.63 L185.06,344.97 L185.76,345.3 L186.47,345.62 L187.17,345.94 L187.87,346.24 L188.57,346.54 L189.27,346.82 L189.97,347.1 L190.68,347.36 L191.38,347.61 L192.08,347.84 L192.78,348.07 L193.48,348.27 L194.18,348.47 L194.89,348.64 L195.59,348.8 L196.29,348.95 L196.99,349.07 L197.69,349.18 L198.39,349.27 L199.1,349.34 L199.8,349.38 L200.5,349.41 L201.2,349.41" fill="none" stroke="#f8a040" stroke-width="0.95" stroke-linejoin="round" stroke-linecap="round" opacity="1.0"/>
<line x1="158.7" y1="223.3" x2="173.3" y2="223.3" stroke="#f8a040" stroke-width="1.0" />
<text x="176.5" y="225.44" font-size="6.3" font-weight="bold" text-anchor="start" fill="#1e1e1e" stroke="#1e1e1e" stroke-width="0.22" >370nm</text>
<line x1="158.7" y1="232.4" x2="173.3" y2="232.4" stroke="#8cb44c" stroke-width="1.0" />
<text x="176.5" y="234.54" font-size="6.3" font-weight="bold" text-anchor="start" fill="#1e1e1e" stroke="#1e1e1e" stroke-width="0.22" >380nm</text>
<line x1="158.7" y1="241.5" x2="173.3" y2="241.5" stroke="#48e848" stroke-width="1.0" />
<text x="176.5" y="243.64" font-size="6.3" font-weight="bold" text-anchor="start" fill="#1e1e1e" stroke="#1e1e1e" stroke-width="0.22" >390nm</text>
<line x1="158.7" y1="250.7" x2="173.3" y2="250.7" stroke="#f8a4dc" stroke-width="1.0" />
<text x="176.5" y="252.84" font-size="6.3" font-weight="bold" text-anchor="start" fill="#1e1e1e" stroke="#1e1e1e" stroke-width="0.22" >400nm</text>
<line x1="158.7" y1="259.9" x2="173.3" y2="259.9" stroke="#c4f2ff" stroke-width="1.0" />
<text x="176.5" y="262.04" font-size="6.3" font-weight="bold" text-anchor="start" fill="#1e1e1e" stroke="#1e1e1e" stroke-width="0.22" >410nm</text>
<line x1="158.7" y1="269" x2="173.3" y2="269" stroke="#56baf2" stroke-width="1.0" />
<text x="176.5" y="271.14" font-size="6.3" font-weight="bold" text-anchor="start" fill="#1e1e1e" stroke="#1e1e1e" stroke-width="0.22" >420nm</text>
<line x1="275.6" y1="353.6" x2="275.6" y2="356.2" stroke="#525252" stroke-width="1.0" />
<line x1="292.47" y1="353.6" x2="292.47" y2="355.1" stroke="#525252" stroke-width="1.0" />
<line x1="309.34" y1="353.6" x2="309.34" y2="356.2" stroke="#525252" stroke-width="1.0" />
<line x1="326.21" y1="353.6" x2="326.21" y2="355.1" stroke="#525252" stroke-width="1.0" />
<line x1="343.08" y1="353.6" x2="343.08" y2="356.2" stroke="#525252" stroke-width="1.0" />
<line x1="359.95" y1="353.6" x2="359.95" y2="355.1" stroke="#525252" stroke-width="1.0" />
<line x1="376.82" y1="353.6" x2="376.82" y2="356.2" stroke="#525252" stroke-width="1.0" />
<line x1="393.69" y1="353.6" x2="393.69" y2="355.1" stroke="#525252" stroke-width="1.0" />
<line x1="410.56" y1="353.6" x2="410.56" y2="356.2" stroke="#525252" stroke-width="1.0" />
<line x1="427.43" y1="353.6" x2="427.43" y2="355.1" stroke="#525252" stroke-width="1.0" />
<line x1="444.3" y1="353.6" x2="444.3" y2="356.2" stroke="#525252" stroke-width="1.0" />
<line x1="275.6" y1="311.75" x2="274.1" y2="311.75" stroke="#525252" stroke-width="1.0" />
<line x1="275.6" y1="299.4" x2="273" y2="299.4" stroke="#525252" stroke-width="1.0" />
<line x1="275.6" y1="287.05" x2="274.1" y2="287.05" stroke="#525252" stroke-width="1.0" />
<line x1="275.6" y1="274.7" x2="273" y2="274.7" stroke="#525252" stroke-width="1.0" />
<line x1="275.6" y1="262.35" x2="274.1" y2="262.35" stroke="#525252" stroke-width="1.0" />
<line x1="275.6" y1="250" x2="273" y2="250" stroke="#525252" stroke-width="1.0" />
<line x1="275.6" y1="237.65" x2="274.1" y2="237.65" stroke="#525252" stroke-width="1.0" />
<line x1="275.6" y1="225.3" x2="273" y2="225.3" stroke="#525252" stroke-width="1.0" />
<line x1="275.6" y1="353.6" x2="273" y2="353.6" stroke="#525252" stroke-width="1.0" />
<line x1="275.6" y1="348.3" x2="274.1" y2="348.3" stroke="#525252" stroke-width="1.0" />
<line x1="275.6" y1="343" x2="273" y2="343" stroke="#525252" stroke-width="1.0" />
<line x1="275.6" y1="337.7" x2="274.1" y2="337.7" stroke="#525252" stroke-width="1.0" />
<line x1="275.6" y1="332.4" x2="273" y2="332.4" stroke="#525252" stroke-width="1.0" />
<line x1="275.6" y1="213.3" x2="444.3" y2="213.3" stroke="#525252" stroke-width="1.0" />
<line x1="275.6" y1="353.6" x2="444.3" y2="353.6" stroke="#525252" stroke-width="1.0" />
<line x1="275.6" y1="213.3" x2="275.6" y2="324.3" stroke="#525252" stroke-width="1.0" />
<line x1="275.6" y1="327.4" x2="275.6" y2="353.6" stroke="#525252" stroke-width="1.0" />
<line x1="444.3" y1="213.3" x2="444.3" y2="324.3" stroke="#525252" stroke-width="1.0" />
<line x1="444.3" y1="327.4" x2="444.3" y2="353.6" stroke="#525252" stroke-width="1.0" />
<line x1="273.2" y1="325.5" x2="278" y2="323.1" stroke="#525252" stroke-width="0.9" />
<line x1="273.2" y1="328.6" x2="278" y2="326.2" stroke="#525252" stroke-width="0.9" />
<line x1="441.9" y1="325.5" x2="446.7" y2="323.1" stroke="#525252" stroke-width="0.9" />
<line x1="441.9" y1="328.6" x2="446.7" y2="326.2" stroke="#525252" stroke-width="0.9" />
<text x="275.6" y="363.65" font-size="6.5" font-weight="bold" text-anchor="middle" fill="#1e1e1e" stroke="#1e1e1e" stroke-width="0.22" >0.00</text>
<text x="309.34" y="363.65" font-size="6.5" font-weight="bold" text-anchor="middle" fill="#1e1e1e" stroke="#1e1e1e" stroke-width="0.22" >0.02</text>
<text x="343.08" y="363.65" font-size="6.5" font-weight="bold" text-anchor="middle" fill="#1e1e1e" stroke="#1e1e1e" stroke-width="0.22" >0.04</text>
<text x="376.82" y="363.65" font-size="6.5" font-weight="bold" text-anchor="middle" fill="#1e1e1e" stroke="#1e1e1e" stroke-width="0.22" >0.06</text>
<text x="410.56" y="363.65" font-size="6.5" font-weight="bold" text-anchor="middle" fill="#1e1e1e" stroke="#1e1e1e" stroke-width="0.22" >0.08</text>
<text x="444.3" y="363.65" font-size="6.5" font-weight="bold" text-anchor="middle" fill="#1e1e1e" stroke="#1e1e1e" stroke-width="0.22" >0.10</text>
<text x="271" y="301.35" font-size="6.5" font-weight="bold" text-anchor="end" fill="#1e1e1e" stroke="#1e1e1e" stroke-width="0.22" >150</text>
<text x="271" y="276.65" font-size="6.5" font-weight="bold" text-anchor="end" fill="#1e1e1e" stroke="#1e1e1e" stroke-width="0.22" >200</text>
<text x="271" y="251.95" font-size="6.5" font-weight="bold" text-anchor="end" fill="#1e1e1e" stroke="#1e1e1e" stroke-width="0.22" >250</text>
<text x="271" y="227.25" font-size="6.5" font-weight="bold" text-anchor="end" fill="#1e1e1e" stroke="#1e1e1e" stroke-width="0.22" >300</text>
<text x="271" y="355.55" font-size="6.5" font-weight="bold" text-anchor="end" fill="#1e1e1e" stroke="#1e1e1e" stroke-width="0.22" >0</text>
<text x="271" y="344.95" font-size="6.5" font-weight="bold" text-anchor="end" fill="#1e1e1e" stroke="#1e1e1e" stroke-width="0.22" >10</text>
<text x="271" y="334.35" font-size="6.5" font-weight="bold" text-anchor="end" fill="#1e1e1e" stroke="#1e1e1e" stroke-width="0.22" >20</text>
<text x="359.95" y="374.9" font-size="6.5" font-weight="bold" text-anchor="middle" fill="#1e1e1e" stroke="#1e1e1e" stroke-width="0.22" >Absorbance (a.u.)</text>
<text x="257.6" y="283.5" font-size="7.8" font-weight="bold" text-anchor="middle" fill="#1e1e1e" stroke="#1e1e1e" stroke-width="0.22" transform="rotate(-90 257.6 283.5)" >PL intensity (a.u.)</text>
<text x="236.93" y="206.05" font-size="21" font-weight="bold" text-anchor="start" fill="#000" >E</text>
<polyline points="322.3,313.8 347.9,297.4 369.1,283.9 384.7,271.2 413.9,252.7 440.1,226.9" fill="none" stroke="#e8404c" stroke-width="0.9"/>
<rect x="320.7" y="312.2" width="3.2" height="3.2" fill="#d0101c"/>
<rect x="346.3" y="295.8" width="3.2" height="3.2" fill="#d0101c"/>
<rect x="367.5" y="282.3" width="3.2" height="3.2" fill="#d0101c"/>
<rect x="383.1" y="269.6" width="3.2" height="3.2" fill="#d0101c"/>
<rect x="412.3" y="251.1" width="3.2" height="3.2" fill="#d0101c"/>
<rect x="438.5" y="225.3" width="3.2" height="3.2" fill="#d0101c"/>
<polyline points="306.6,349.6 337.9,346.5 369.2,343.6 393.7,341.5 421.1,338.2 441.2,336" fill="none" stroke="#ff9a3c" stroke-width="0.9"/>
<circle cx="306.6" cy="349.6" r="1.75" fill="#ff8008"/>
<circle cx="337.9" cy="346.5" r="1.75" fill="#ff8008"/>
<circle cx="369.2" cy="343.6" r="1.75" fill="#ff8008"/>
<circle cx="393.7" cy="341.5" r="1.75" fill="#ff8008"/>
<circle cx="421.1" cy="338.2" r="1.75" fill="#ff8008"/>
<circle cx="441.2" cy="336" r="1.75" fill="#ff8008"/>
<line x1="286.9" y1="223.3" x2="299.9" y2="223.3" stroke="#e8404c" stroke-width="0.9" />
<rect x="291.9" y="221.7" width="3.2" height="3.2" fill="#d0101c"/>
<text x="303.6" y="225" font-size="6.2" font-weight="bold" text-anchor="start" fill="#1e1e1e" stroke="#1e1e1e" stroke-width="0.22" >Quinine sulfate</text>
<line x1="286.9" y1="231.4" x2="299.9" y2="231.4" stroke="#ff9a3c" stroke-width="0.9" />
<circle cx="293.5" cy="231.4" r="1.75" fill="#ff8008"/>
<text x="303.6" y="233.1" font-size="6.2" font-weight="bold" text-anchor="start" fill="#1e1e1e" stroke="#1e1e1e" stroke-width="0.22" >GC-CDs</text>
<text x="379.8" y="264.97" font-size="6.4" font-weight="bold" text-anchor="start" fill="#e0202c" stroke="#e0202c" stroke-width="0.22" >54%</text>
<text x="383.8" y="336.57" font-size="6.4" font-weight="bold" text-anchor="start" fill="#ff8a1c" stroke="#ff8a1c" stroke-width="0.22" >3.43%</text>
<line x1="551.85" y1="213.3" x2="551.85" y2="356.2" stroke="#b8b8b8" stroke-width="0.6" stroke-dasharray="0.8 2.2"/>
<line x1="594.2" y1="213.3" x2="594.2" y2="356.2" stroke="#b8b8b8" stroke-width="0.6" stroke-dasharray="0.8 2.2"/>
<line x1="636.55" y1="213.3" x2="636.55" y2="356.2" stroke="#b8b8b8" stroke-width="0.6" stroke-dasharray="0.8 2.2"/>
<line x1="509.5" y1="308.57" x2="678.9" y2="308.57" stroke="#b8b8b8" stroke-width="0.6" stroke-dasharray="0.8 2.2"/>
<line x1="509.5" y1="260.93" x2="678.9" y2="260.93" stroke="#b8b8b8" stroke-width="0.6" stroke-dasharray="0.8 2.2"/>
<line x1="509.5" y1="356.2" x2="509.5" y2="358.6" stroke="#6a6a6a" stroke-width="0.8" />
<line x1="530.67" y1="356.2" x2="530.67" y2="357.6" stroke="#6a6a6a" stroke-width="0.8" />
<line x1="551.85" y1="356.2" x2="551.85" y2="358.6" stroke="#6a6a6a" stroke-width="0.8" />
<line x1="573.02" y1="356.2" x2="573.02" y2="357.6" stroke="#6a6a6a" stroke-width="0.8" />
<line x1="594.2" y1="356.2" x2="594.2" y2="358.6" stroke="#6a6a6a" stroke-width="0.8" />
<line x1="615.38" y1="356.2" x2="615.38" y2="357.6" stroke="#6a6a6a" stroke-width="0.8" />
<line x1="636.55" y1="356.2" x2="636.55" y2="358.6" stroke="#6a6a6a" stroke-width="0.8" />
<line x1="657.72" y1="356.2" x2="657.72" y2="357.6" stroke="#6a6a6a" stroke-width="0.8" />
<line x1="678.9" y1="356.2" x2="678.9" y2="358.6" stroke="#6a6a6a" stroke-width="0.8" />
<line x1="509.5" y1="356.2" x2="507.1" y2="356.2" stroke="#6a6a6a" stroke-width="0.8" />
<line x1="509.5" y1="332.38" x2="508.1" y2="332.38" stroke="#6a6a6a" stroke-width="0.8" />
<line x1="509.5" y1="308.57" x2="507.1" y2="308.57" stroke="#6a6a6a" stroke-width="0.8" />
<line x1="509.5" y1="284.75" x2="508.1" y2="284.75" stroke="#6a6a6a" stroke-width="0.8" />
<line x1="509.5" y1="260.93" x2="507.1" y2="260.93" stroke="#6a6a6a" stroke-width="0.8" />
<line x1="509.5" y1="237.12" x2="508.1" y2="237.12" stroke="#6a6a6a" stroke-width="0.8" />
<line x1="509.5" y1="213.3" x2="507.1" y2="213.3" stroke="#6a6a6a" stroke-width="0.8" />
<rect x="509.5" y="213.3" width="169.4" height="142.9" fill="none" stroke="#6a6a6a" stroke-width="0.9"/>
<text x="551.85" y="366.31" font-size="5.7" font-weight="bold" text-anchor="middle" fill="#222" stroke="#222" stroke-width="0.22" >-100</text>
<text x="594.2" y="366.31" font-size="5.7" font-weight="bold" text-anchor="middle" fill="#222" stroke="#222" stroke-width="0.22" >0</text>
<text x="636.55" y="366.31" font-size="5.7" font-weight="bold" text-anchor="middle" fill="#222" stroke="#222" stroke-width="0.22" >100</text>
<text x="678.9" y="366.31" font-size="5.7" font-weight="bold" text-anchor="middle" fill="#222" stroke="#222" stroke-width="0.22" >200</text>
<text x="504" y="357.88" font-size="5.6" font-weight="bold" text-anchor="end" fill="#222" stroke="#222" stroke-width="0.22" >0</text>
<text x="504" y="310.25" font-size="5.6" font-weight="bold" text-anchor="end" fill="#222" stroke="#222" stroke-width="0.22" >100000</text>
<text x="504" y="262.61" font-size="5.6" font-weight="bold" text-anchor="end" fill="#222" stroke="#222" stroke-width="0.22" >200000</text>
<text x="504" y="214.98" font-size="5.6" font-weight="bold" text-anchor="end" fill="#222" stroke="#222" stroke-width="0.22" >300000</text>
<text x="594.2" y="378.24" font-size="6.6" font-weight="bold" text-anchor="middle" fill="#222" stroke="#222" stroke-width="0.22" >Apparent Zeta Potential (mV)</text>
<text x="480.2" y="288.4" font-size="6.0" font-weight="bold" text-anchor="middle" fill="#222" stroke="#222" stroke-width="0.22" transform="rotate(-90 480.2 288.4)" >Total Counts</text>
<text x="467.73" y="206.35" font-size="21" font-weight="bold" text-anchor="start" fill="#000" >F</text>
<polyline points="570.6,356.2 572.6,340 574.8,324.3 576.6,305 578,285 579.4,250 580.2,228.6 580.9,240 582,260 584,285 586.4,300 588.5,314.5 591.2,331.5 593.5,335.5 595,340 598.4,356.2" fill="none" stroke="#ff8484" stroke-width="0.65" stroke-linejoin="round"/>
<line x1="594.9" y1="236.8" x2="587.11" y2="231.12" stroke="#333" stroke-width="0.65" />
<path d="M584.2,229 L588.05,229.83 L586.17,232.41 Z" fill="#333"/>
<text x="600" y="240.23" font-size="6.0" font-weight="bold" text-anchor="start" fill="#111" stroke="#111" stroke-width="0.22" >-31.9 mV</text>
</svg>
</body></html>
